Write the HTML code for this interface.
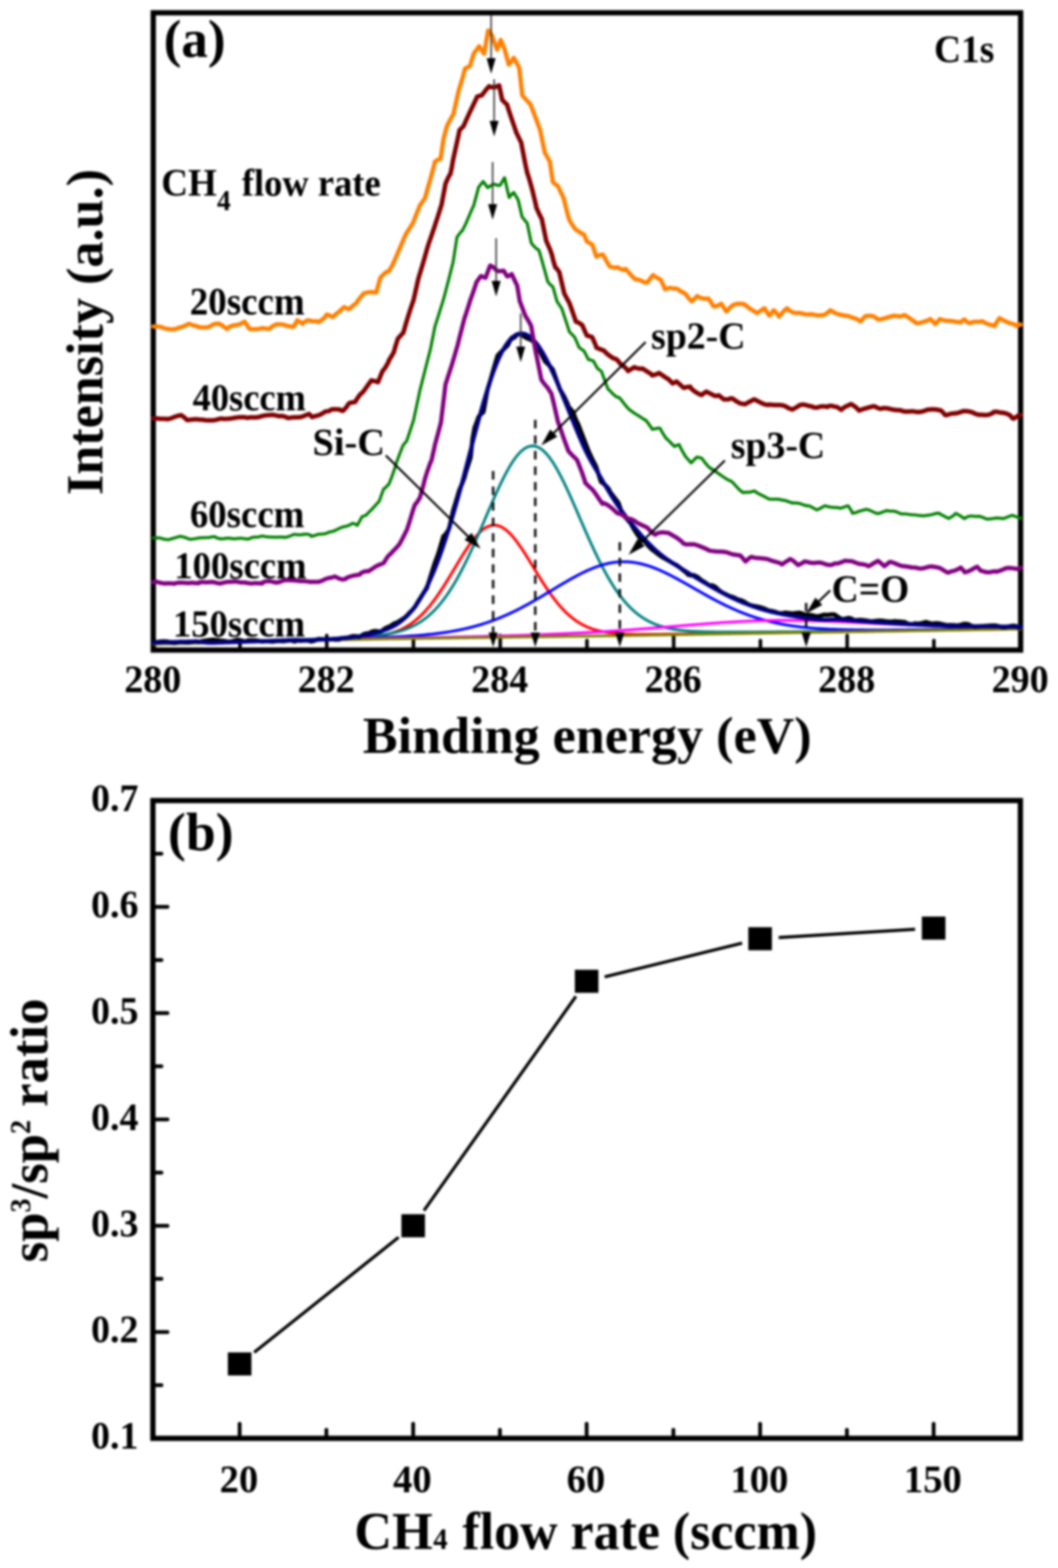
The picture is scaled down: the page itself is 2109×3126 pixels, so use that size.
<!DOCTYPE html><html><head><meta charset="utf-8"><style>html,body{margin:0;padding:0;background:#fff;}svg{display:block;filter:blur(2.2px);}</style></head><body><svg width="2109" height="3126" viewBox="0 0 2109 3126">
<rect width="2109" height="3126" fill="#fff"/>
<defs><clipPath id="ca"><rect x="300.5" y="20" width="1739" height="1281"/></clipPath></defs>
<rect x="305.5" y="25.5" width="1729.0" height="1270.5" fill="none" stroke="#000" stroke-width="10.5"/>
<line x1="478.4" y1="1296" x2="478.4" y2="1277" stroke="#000" stroke-width="7" stroke-linecap="round"/>
<line x1="651.3" y1="1296" x2="651.3" y2="1267" stroke="#000" stroke-width="7" stroke-linecap="round"/>
<line x1="824.2" y1="1296" x2="824.2" y2="1277" stroke="#000" stroke-width="7" stroke-linecap="round"/>
<line x1="997.1" y1="1296" x2="997.1" y2="1267" stroke="#000" stroke-width="7" stroke-linecap="round"/>
<line x1="1170.0" y1="1296" x2="1170.0" y2="1277" stroke="#000" stroke-width="7" stroke-linecap="round"/>
<line x1="1342.9" y1="1296" x2="1342.9" y2="1267" stroke="#000" stroke-width="7" stroke-linecap="round"/>
<line x1="1515.8" y1="1296" x2="1515.8" y2="1277" stroke="#000" stroke-width="7" stroke-linecap="round"/>
<line x1="1688.7" y1="1296" x2="1688.7" y2="1267" stroke="#000" stroke-width="7" stroke-linecap="round"/>
<line x1="1861.6" y1="1296" x2="1861.6" y2="1277" stroke="#000" stroke-width="7" stroke-linecap="round"/>
<g clip-path="url(#ca)" fill="none" stroke-linejoin="round" stroke-linecap="round">
<polyline points="305.5,1283.6 308.5,1283.6 311.5,1283.6 314.5,1283.5 317.5,1283.5 320.5,1283.4 323.5,1283.3 326.5,1283.3 329.5,1283.2 332.5,1283.1 335.5,1283.0 338.5,1283.0 341.5,1282.9 344.5,1282.8 347.5,1282.7 350.5,1282.7 353.5,1282.6 356.5,1282.5 359.5,1282.5 362.5,1282.4 365.5,1282.3 368.5,1282.2 371.5,1282.2 374.5,1282.1 377.5,1282.0 380.5,1282.0 383.5,1281.9 386.5,1281.8 389.5,1281.7 392.5,1281.7 395.5,1281.6 398.5,1281.5 401.5,1281.4 404.5,1281.4 407.5,1281.3 410.5,1281.2 413.5,1281.2 416.5,1281.1 419.5,1281.0 422.5,1280.9 425.5,1280.9 428.5,1280.8 431.5,1280.7 434.5,1280.6 437.5,1280.6 440.5,1280.5 443.5,1280.4 446.5,1280.3 449.5,1280.3 452.5,1280.2 455.5,1280.1 458.5,1280.0 461.5,1280.0 464.5,1279.9 467.5,1279.8 470.5,1279.7 473.5,1279.7 476.5,1279.6 479.5,1279.5 482.5,1279.4 485.5,1279.4 488.5,1279.3 491.5,1279.2 494.5,1279.1 497.5,1279.1 500.5,1279.0 503.5,1278.9 506.5,1278.8 509.5,1278.8 512.5,1278.7 515.5,1278.6 518.5,1278.5 521.5,1278.5 524.5,1278.4 527.5,1278.3 530.5,1278.2 533.5,1278.1 536.5,1278.1 539.5,1278.0 542.5,1277.9 545.5,1277.8 548.5,1277.7 551.5,1277.7 554.5,1277.6 557.5,1277.5 560.5,1277.4 563.5,1277.3 566.5,1277.3 569.5,1277.2 572.5,1277.1 575.5,1277.0 578.5,1276.9 581.5,1276.9 584.5,1276.8 587.5,1276.7 590.5,1276.6 593.5,1276.5 596.5,1276.4 599.5,1276.4 602.5,1276.3 605.5,1276.2 608.5,1276.1 611.5,1276.0 614.5,1275.9 617.5,1275.9 620.5,1275.8 623.5,1275.7 626.5,1275.6 629.5,1275.5 632.5,1275.4 635.5,1275.3 638.5,1275.2 641.5,1275.1 644.5,1275.0 647.5,1274.9 650.5,1274.9 653.5,1274.8 656.5,1274.7 659.5,1274.6 662.5,1274.5 665.5,1274.3 668.5,1274.2 671.5,1274.1 674.5,1274.0 677.5,1273.9 680.5,1273.8 683.5,1273.7 686.5,1273.5 689.5,1273.4 692.5,1273.3 695.5,1273.1 698.5,1273.0 701.5,1272.8 704.5,1272.7 707.5,1272.5 710.5,1272.3 713.5,1272.1 716.5,1271.9 719.5,1271.7 722.5,1271.5 725.5,1271.2 728.5,1271.0 731.5,1270.7 734.5,1270.4 737.5,1270.1 740.5,1269.7 743.5,1269.4 746.5,1269.0 749.5,1268.5 752.5,1268.1 755.5,1267.6 758.5,1267.1 761.5,1266.6 764.5,1266.0 767.5,1265.4 770.5,1264.7 773.5,1264.0 776.5,1263.2 779.5,1262.3 782.5,1261.4 785.5,1260.4 788.5,1259.4 791.5,1258.3 794.5,1257.0 797.5,1255.8 800.5,1254.4 803.5,1252.9 806.5,1251.3 809.5,1249.7 812.5,1247.9 815.5,1246.0 818.5,1244.1 821.5,1242.0 824.5,1239.7 827.5,1237.4 830.5,1234.9 833.5,1232.3 836.5,1229.6 839.5,1226.8 842.5,1223.8 845.5,1220.7 848.5,1217.4 851.5,1214.0 854.5,1210.5 857.5,1206.9 860.5,1203.1 863.5,1199.2 866.5,1195.2 869.5,1191.0 872.5,1186.8 875.5,1182.4 878.5,1177.9 881.5,1173.4 884.5,1168.7 887.5,1164.0 890.5,1159.1 893.5,1154.3 896.5,1149.3 899.5,1144.4 902.5,1139.4 905.5,1134.4 908.5,1129.4 911.5,1124.4 914.5,1119.4 917.5,1114.4 920.5,1109.6 923.5,1104.8 926.5,1100.0 929.5,1095.4 932.5,1090.9 935.5,1086.5 938.5,1082.3 941.5,1078.3 944.5,1074.4 947.5,1070.8 950.5,1067.3 953.5,1064.1 956.5,1061.1 959.5,1058.4 962.5,1055.9 965.5,1053.7 968.5,1051.8 971.5,1050.2 974.5,1049.0 977.5,1048.0 980.5,1047.3 983.5,1047.0 986.5,1047.0 989.5,1047.3 992.5,1047.9 995.5,1048.8 998.5,1050.1 1001.5,1051.6 1004.5,1053.5 1007.5,1055.6 1010.5,1058.0 1013.5,1060.7 1016.5,1063.6 1019.5,1066.8 1022.5,1070.2 1025.5,1073.8 1028.5,1077.6 1031.5,1081.6 1034.5,1085.8 1037.5,1090.1 1040.5,1094.5 1043.5,1099.1 1046.5,1103.7 1049.5,1108.5 1052.5,1113.3 1055.5,1118.1 1058.5,1123.0 1061.5,1127.9 1064.5,1132.9 1067.5,1137.8 1070.5,1142.7 1073.5,1147.6 1076.5,1152.4 1079.5,1157.2 1082.5,1161.9 1085.5,1166.5 1088.5,1171.1 1091.5,1175.6 1094.5,1179.9 1097.5,1184.2 1100.5,1188.4 1103.5,1192.4 1106.5,1196.3 1109.5,1200.1 1112.5,1203.8 1115.5,1207.4 1118.5,1210.8 1121.5,1214.0 1124.5,1217.2 1127.5,1220.2 1130.5,1223.1 1133.5,1225.8 1136.5,1228.4 1139.5,1230.9 1142.5,1233.3 1145.5,1235.5 1148.5,1237.7 1151.5,1239.7 1154.5,1241.5 1157.5,1243.3 1160.5,1245.0 1163.5,1246.5 1166.5,1248.0 1169.5,1249.4 1172.5,1250.7 1175.5,1251.9 1178.5,1253.0 1181.5,1254.0 1184.5,1255.0 1187.5,1255.8 1190.5,1256.7 1193.5,1257.4 1196.5,1258.1 1199.5,1258.8 1202.5,1259.4 1205.5,1259.9 1208.5,1260.4 1211.5,1260.8 1214.5,1261.3 1217.5,1261.6 1220.5,1262.0 1223.5,1262.3 1226.5,1262.6 1229.5,1262.8 1232.5,1263.1 1235.5,1263.3 1238.5,1263.4 1241.5,1263.6 1244.5,1263.8 1247.5,1263.9 1250.5,1264.0 1253.5,1264.1 1256.5,1264.2 1259.5,1264.3 1262.5,1264.3 1265.5,1264.4 1268.5,1264.4 1271.5,1264.4 1274.5,1264.5 1277.5,1264.5 1280.5,1264.5 1283.5,1264.5 1286.5,1264.5 1289.5,1264.5 1292.5,1264.5 1295.5,1264.5 1298.5,1264.5 1301.5,1264.5 1304.5,1264.5 1307.5,1264.5 1310.5,1264.4 1313.5,1264.4 1316.5,1264.4 1319.5,1264.4 1322.5,1264.3 1325.5,1264.3 1328.5,1264.3 1331.5,1264.3 1334.5,1264.2 1337.5,1264.2 1340.5,1264.2 1343.5,1264.1 1346.5,1264.1 1349.5,1264.1 1352.5,1264.0 1355.5,1264.0 1358.5,1264.0 1361.5,1263.9 1364.5,1263.9 1367.5,1263.9 1370.5,1263.8 1373.5,1263.8 1376.5,1263.8 1379.5,1263.7 1382.5,1263.7 1385.5,1263.6 1388.5,1263.6 1391.5,1263.6 1394.5,1263.5 1397.5,1263.5 1400.5,1263.4 1403.5,1263.4 1406.5,1263.4 1409.5,1263.3 1412.5,1263.3 1415.5,1263.2 1418.5,1263.2 1421.5,1263.2 1424.5,1263.1 1427.5,1263.1 1430.5,1263.0 1433.5,1263.0 1436.5,1262.9 1439.5,1262.9 1442.5,1262.9 1445.5,1262.8 1448.5,1262.8 1451.5,1262.7 1454.5,1262.7 1457.5,1262.6 1460.5,1262.6 1463.5,1262.5 1466.5,1262.5 1469.5,1262.5 1472.5,1262.4 1475.5,1262.4 1478.5,1262.3 1481.5,1262.3 1484.5,1262.2 1487.5,1262.2 1490.5,1262.1 1493.5,1262.1 1496.5,1262.0 1499.5,1262.0 1502.5,1262.0 1505.5,1261.9 1508.5,1261.9 1511.5,1261.8 1514.5,1261.8 1517.5,1261.7 1520.5,1261.7 1523.5,1261.7 1526.5,1261.6 1529.5,1261.6 1532.5,1261.5 1535.5,1261.5 1538.5,1261.4 1541.5,1261.4 1544.5,1261.4 1547.5,1261.3 1550.5,1261.3 1553.5,1261.2 1556.5,1261.2 1559.5,1261.1 1562.5,1261.1 1565.5,1261.1 1568.5,1261.0 1571.5,1261.0 1574.5,1260.9 1577.5,1260.9 1580.5,1260.8 1583.5,1260.8 1586.5,1260.7 1589.5,1260.7 1592.5,1260.7 1595.5,1260.6 1598.5,1260.6 1601.5,1260.5 1604.5,1260.5 1607.5,1260.4 1610.5,1260.4 1613.5,1260.3 1616.5,1260.3 1619.5,1260.3 1622.5,1260.2 1625.5,1260.2 1628.5,1260.1 1631.5,1260.1 1634.5,1260.0 1637.5,1260.0 1640.5,1259.9 1643.5,1259.9 1646.5,1259.9 1649.5,1259.8 1652.5,1259.8 1655.5,1259.7 1658.5,1259.7 1661.5,1259.6 1664.5,1259.6 1667.5,1259.5 1670.5,1259.5 1673.5,1259.4 1676.5,1259.4 1679.5,1259.4 1682.5,1259.3 1685.5,1259.3 1688.5,1259.2 1691.5,1259.2 1694.5,1259.1 1697.5,1259.1 1700.5,1259.0 1703.5,1259.0 1706.5,1258.9 1709.5,1258.9 1712.5,1258.8 1715.5,1258.8 1718.5,1258.8 1721.5,1258.7 1724.5,1258.7 1727.5,1258.6 1730.5,1258.6 1733.5,1258.5 1736.5,1258.5 1739.5,1258.4 1742.5,1258.4 1745.5,1258.3 1748.5,1258.3 1751.5,1258.2 1754.5,1258.2 1757.5,1258.1 1760.5,1258.1 1763.5,1258.1 1766.5,1258.0 1769.5,1258.0 1772.5,1257.9 1775.5,1257.9 1778.5,1257.8 1781.5,1257.8 1784.5,1257.7 1787.5,1257.7 1790.5,1257.6 1793.5,1257.6 1796.5,1257.5 1799.5,1257.5 1802.5,1257.4 1805.5,1257.4 1808.5,1257.4 1811.5,1257.3 1814.5,1257.3 1817.5,1257.2 1820.5,1257.2 1823.5,1257.1 1826.5,1257.1 1829.5,1257.0 1832.5,1257.0 1835.5,1256.9 1838.5,1256.9 1841.5,1256.8 1844.5,1256.8 1847.5,1256.7 1850.5,1256.7 1853.5,1256.6 1856.5,1256.6 1859.5,1256.6 1862.5,1256.5 1865.5,1256.5 1868.5,1256.4 1871.5,1256.4 1874.5,1256.3 1877.5,1256.3 1880.5,1256.2 1883.5,1256.2 1886.5,1256.1 1889.5,1256.1 1892.5,1256.0 1895.5,1256.0 1898.5,1255.9 1901.5,1255.9 1904.5,1255.8 1907.5,1255.8 1910.5,1255.7 1913.5,1255.7 1916.5,1255.7 1919.5,1255.6 1922.5,1255.6 1925.5,1255.5 1928.5,1255.5 1931.5,1255.4 1934.5,1255.4 1937.5,1255.3 1940.5,1255.3 1943.5,1255.2 1946.5,1255.2 1949.5,1255.1 1952.5,1255.1 1955.5,1255.0 1958.5,1255.0 1961.5,1254.9 1964.5,1254.9 1967.5,1254.8 1970.5,1254.8 1973.5,1254.7 1976.5,1254.7 1979.5,1254.7 1982.5,1254.6 1985.5,1254.6 1988.5,1254.5 1991.5,1254.5 1994.5,1254.4 1997.5,1254.4 2000.5,1254.3 2003.5,1254.3 2006.5,1254.2 2009.5,1254.2 2012.5,1254.1 2015.5,1254.1 2018.5,1254.0 2021.5,1254.0 2024.5,1253.9 2027.5,1253.9 2030.5,1253.8 2033.5,1253.9 2034.5,1253.9" stroke="#ff0000" stroke-width="5.5"/>
<polyline points="305.5,1283.1 308.5,1283.1 311.5,1283.0 314.5,1282.9 317.5,1282.9 320.5,1282.8 323.5,1282.7 326.5,1282.6 329.5,1282.6 332.5,1282.5 335.5,1282.4 338.5,1282.3 341.5,1282.3 344.5,1282.2 347.5,1282.1 350.5,1282.0 353.5,1281.9 356.5,1281.9 359.5,1281.8 362.5,1281.7 365.5,1281.6 368.5,1281.6 371.5,1281.5 374.5,1281.4 377.5,1281.3 380.5,1281.2 383.5,1281.2 386.5,1281.1 389.5,1281.0 392.5,1280.9 395.5,1280.9 398.5,1280.8 401.5,1280.7 404.5,1280.6 407.5,1280.5 410.5,1280.5 413.5,1280.4 416.5,1280.3 419.5,1280.2 422.5,1280.1 425.5,1280.1 428.5,1280.0 431.5,1279.9 434.5,1279.8 437.5,1279.7 440.5,1279.7 443.5,1279.6 446.5,1279.5 449.5,1279.4 452.5,1279.3 455.5,1279.3 458.5,1279.2 461.5,1279.1 464.5,1279.0 467.5,1278.9 470.5,1278.8 473.5,1278.8 476.5,1278.7 479.5,1278.6 482.5,1278.5 485.5,1278.4 488.5,1278.3 491.5,1278.3 494.5,1278.2 497.5,1278.1 500.5,1278.0 503.5,1277.9 506.5,1277.8 509.5,1277.7 512.5,1277.7 515.5,1277.6 518.5,1277.5 521.5,1277.4 524.5,1277.3 527.5,1277.2 530.5,1277.1 533.5,1277.0 536.5,1277.0 539.5,1276.9 542.5,1276.8 545.5,1276.7 548.5,1276.6 551.5,1276.5 554.5,1276.4 557.5,1276.3 560.5,1276.2 563.5,1276.1 566.5,1276.0 569.5,1275.9 572.5,1275.9 575.5,1275.8 578.5,1275.7 581.5,1275.6 584.5,1275.5 587.5,1275.4 590.5,1275.3 593.5,1275.2 596.5,1275.1 599.5,1275.0 602.5,1274.9 605.5,1274.8 608.5,1274.7 611.5,1274.6 614.5,1274.5 617.5,1274.4 620.5,1274.3 623.5,1274.2 626.5,1274.1 629.5,1274.0 632.5,1273.9 635.5,1273.8 638.5,1273.6 641.5,1273.5 644.5,1273.4 647.5,1273.3 650.5,1273.2 653.5,1273.1 656.5,1273.0 659.5,1272.8 662.5,1272.7 665.5,1272.6 668.5,1272.5 671.5,1272.4 674.5,1272.2 677.5,1272.1 680.5,1272.0 683.5,1271.8 686.5,1271.7 689.5,1271.5 692.5,1271.4 695.5,1271.2 698.5,1271.1 701.5,1270.9 704.5,1270.7 707.5,1270.6 710.5,1270.4 713.5,1270.2 716.5,1270.0 719.5,1269.8 722.5,1269.6 725.5,1269.3 728.5,1269.1 731.5,1268.9 734.5,1268.6 737.5,1268.3 740.5,1268.0 743.5,1267.7 746.5,1267.4 749.5,1267.1 752.5,1266.7 755.5,1266.4 758.5,1266.0 761.5,1265.6 764.5,1265.2 767.5,1264.7 770.5,1264.3 773.5,1263.7 776.5,1263.2 779.5,1262.6 782.5,1262.0 785.5,1261.3 788.5,1260.6 791.5,1259.9 794.5,1259.1 797.5,1258.2 800.5,1257.3 803.5,1256.3 806.5,1255.3 809.5,1254.2 812.5,1253.0 815.5,1251.8 818.5,1250.5 821.5,1249.1 824.5,1247.6 827.5,1246.1 830.5,1244.4 833.5,1242.7 836.5,1240.9 839.5,1238.9 842.5,1236.9 845.5,1234.7 848.5,1232.4 851.5,1230.1 854.5,1227.5 857.5,1224.9 860.5,1222.1 863.5,1219.3 866.5,1216.2 869.5,1213.1 872.5,1209.7 875.5,1206.3 878.5,1202.7 881.5,1198.9 884.5,1195.0 887.5,1191.0 890.5,1186.8 893.5,1182.4 896.5,1177.9 899.5,1173.3 902.5,1168.4 905.5,1163.5 908.5,1158.3 911.5,1153.1 914.5,1147.7 917.5,1142.1 920.5,1136.4 923.5,1130.5 926.5,1124.6 929.5,1118.5 932.5,1112.2 935.5,1105.9 938.5,1099.4 941.5,1092.9 944.5,1086.3 947.5,1079.5 950.5,1072.7 953.5,1065.9 956.5,1058.9 959.5,1052.0 962.5,1045.0 965.5,1038.0 968.5,1030.9 971.5,1023.9 974.5,1016.9 977.5,1010.0 980.5,1003.0 983.5,996.2 986.5,989.4 989.5,982.7 992.5,976.1 995.5,969.7 998.5,963.4 1001.5,957.2 1004.5,951.2 1007.5,945.4 1010.5,939.8 1013.5,934.5 1016.5,929.3 1019.5,924.4 1022.5,919.8 1025.5,915.4 1028.5,911.4 1031.5,907.6 1034.5,904.2 1037.5,901.1 1040.5,898.3 1043.5,895.9 1046.5,893.8 1049.5,892.1 1052.5,890.8 1055.5,889.8 1058.5,889.2 1061.5,889.0 1064.5,889.2 1067.5,889.8 1070.5,890.7 1073.5,892.0 1076.5,893.7 1079.5,895.8 1082.5,898.2 1085.5,900.9 1088.5,904.0 1091.5,907.4 1094.5,911.1 1097.5,915.2 1100.5,919.5 1103.5,924.1 1106.5,928.9 1109.5,934.0 1112.5,939.4 1115.5,944.9 1118.5,950.7 1121.5,956.6 1124.5,962.7 1127.5,969.0 1130.5,975.4 1133.5,981.9 1136.5,988.5 1139.5,995.2 1142.5,1002.0 1145.5,1008.9 1148.5,1015.7 1151.5,1022.7 1154.5,1029.6 1157.5,1036.5 1160.5,1043.5 1163.5,1050.4 1166.5,1057.3 1169.5,1064.1 1172.5,1070.9 1175.5,1077.6 1178.5,1084.2 1181.5,1090.7 1184.5,1097.2 1187.5,1103.5 1190.5,1109.8 1193.5,1115.9 1196.5,1121.9 1199.5,1127.8 1202.5,1133.5 1205.5,1139.1 1208.5,1144.5 1211.5,1149.9 1214.5,1155.0 1217.5,1160.0 1220.5,1164.9 1223.5,1169.6 1226.5,1174.2 1229.5,1178.6 1232.5,1182.8 1235.5,1186.9 1238.5,1190.8 1241.5,1194.6 1244.5,1198.3 1247.5,1201.7 1250.5,1205.1 1253.5,1208.3 1256.5,1211.3 1259.5,1214.2 1262.5,1217.0 1265.5,1219.7 1268.5,1222.2 1271.5,1224.6 1274.5,1226.8 1277.5,1229.0 1280.5,1231.0 1283.5,1233.0 1286.5,1234.8 1289.5,1236.5 1292.5,1238.1 1295.5,1239.7 1298.5,1241.1 1301.5,1242.5 1304.5,1243.8 1307.5,1245.0 1310.5,1246.1 1313.5,1247.1 1316.5,1248.1 1319.5,1249.0 1322.5,1249.9 1325.5,1250.7 1328.5,1251.5 1331.5,1252.2 1334.5,1252.8 1337.5,1253.4 1340.5,1254.0 1343.5,1254.5 1346.5,1255.0 1349.5,1255.4 1352.5,1255.8 1355.5,1256.2 1358.5,1256.6 1361.5,1256.9 1364.5,1257.2 1367.5,1257.5 1370.5,1257.7 1373.5,1257.9 1376.5,1258.2 1379.5,1258.4 1382.5,1258.5 1385.5,1258.7 1388.5,1258.8 1391.5,1259.0 1394.5,1259.1 1397.5,1259.2 1400.5,1259.3 1403.5,1259.4 1406.5,1259.5 1409.5,1259.6 1412.5,1259.6 1415.5,1259.7 1418.5,1259.7 1421.5,1259.8 1424.5,1259.8 1427.5,1259.9 1430.5,1259.9 1433.5,1259.9 1436.5,1260.0 1439.5,1260.0 1442.5,1260.0 1445.5,1260.0 1448.5,1260.0 1451.5,1260.0 1454.5,1260.0 1457.5,1260.0 1460.5,1260.0 1463.5,1260.0 1466.5,1260.0 1469.5,1260.0 1472.5,1260.0 1475.5,1260.0 1478.5,1260.0 1481.5,1260.0 1484.5,1260.0 1487.5,1260.0 1490.5,1260.0 1493.5,1260.0 1496.5,1259.9 1499.5,1259.9 1502.5,1259.9 1505.5,1259.9 1508.5,1259.9 1511.5,1259.9 1514.5,1259.8 1517.5,1259.8 1520.5,1259.8 1523.5,1259.8 1526.5,1259.8 1529.5,1259.8 1532.5,1259.7 1535.5,1259.7 1538.5,1259.7 1541.5,1259.7 1544.5,1259.7 1547.5,1259.6 1550.5,1259.6 1553.5,1259.6 1556.5,1259.6 1559.5,1259.5 1562.5,1259.5 1565.5,1259.5 1568.5,1259.5 1571.5,1259.4 1574.5,1259.4 1577.5,1259.4 1580.5,1259.4 1583.5,1259.3 1586.5,1259.3 1589.5,1259.3 1592.5,1259.2 1595.5,1259.2 1598.5,1259.2 1601.5,1259.2 1604.5,1259.1 1607.5,1259.1 1610.5,1259.1 1613.5,1259.0 1616.5,1259.0 1619.5,1259.0 1622.5,1258.9 1625.5,1258.9 1628.5,1258.9 1631.5,1258.8 1634.5,1258.8 1637.5,1258.8 1640.5,1258.7 1643.5,1258.7 1646.5,1258.7 1649.5,1258.6 1652.5,1258.6 1655.5,1258.6 1658.5,1258.5 1661.5,1258.5 1664.5,1258.5 1667.5,1258.4 1670.5,1258.4 1673.5,1258.4 1676.5,1258.3 1679.5,1258.3 1682.5,1258.3 1685.5,1258.2 1688.5,1258.2 1691.5,1258.2 1694.5,1258.1 1697.5,1258.1 1700.5,1258.0 1703.5,1258.0 1706.5,1258.0 1709.5,1257.9 1712.5,1257.9 1715.5,1257.9 1718.5,1257.8 1721.5,1257.8 1724.5,1257.7 1727.5,1257.7 1730.5,1257.7 1733.5,1257.6 1736.5,1257.6 1739.5,1257.6 1742.5,1257.5 1745.5,1257.5 1748.5,1257.4 1751.5,1257.4 1754.5,1257.4 1757.5,1257.3 1760.5,1257.3 1763.5,1257.2 1766.5,1257.2 1769.5,1257.2 1772.5,1257.1 1775.5,1257.1 1778.5,1257.0 1781.5,1257.0 1784.5,1257.0 1787.5,1256.9 1790.5,1256.9 1793.5,1256.8 1796.5,1256.8 1799.5,1256.8 1802.5,1256.7 1805.5,1256.7 1808.5,1256.6 1811.5,1256.6 1814.5,1256.6 1817.5,1256.5 1820.5,1256.5 1823.5,1256.4 1826.5,1256.4 1829.5,1256.3 1832.5,1256.3 1835.5,1256.3 1838.5,1256.2 1841.5,1256.2 1844.5,1256.1 1847.5,1256.1 1850.5,1256.1 1853.5,1256.0 1856.5,1256.0 1859.5,1255.9 1862.5,1255.9 1865.5,1255.8 1868.5,1255.8 1871.5,1255.8 1874.5,1255.7 1877.5,1255.7 1880.5,1255.6 1883.5,1255.6 1886.5,1255.5 1889.5,1255.5 1892.5,1255.5 1895.5,1255.4 1898.5,1255.4 1901.5,1255.3 1904.5,1255.3 1907.5,1255.2 1910.5,1255.2 1913.5,1255.1 1916.5,1255.1 1919.5,1255.1 1922.5,1255.0 1925.5,1255.0 1928.5,1254.9 1931.5,1254.9 1934.5,1254.8 1937.5,1254.8 1940.5,1254.8 1943.5,1254.7 1946.5,1254.7 1949.5,1254.6 1952.5,1254.6 1955.5,1254.5 1958.5,1254.5 1961.5,1254.4 1964.5,1254.4 1967.5,1254.4 1970.5,1254.3 1973.5,1254.3 1976.5,1254.2 1979.5,1254.2 1982.5,1254.1 1985.5,1254.1 1988.5,1254.0 1991.5,1254.0 1994.5,1254.0 1997.5,1253.9 2000.5,1253.9 2003.5,1253.8 2006.5,1253.8 2009.5,1253.7 2012.5,1253.7 2015.5,1253.6 2018.5,1253.6 2021.5,1253.6 2024.5,1253.5 2027.5,1253.5 2030.5,1253.4 2033.5,1253.4 2034.5,1253.4" stroke="#008080" stroke-width="5.5"/>
<polyline points="305.5,1283.3 308.5,1283.3 311.5,1283.2 314.5,1283.2 317.5,1283.1 320.5,1283.0 323.5,1282.9 326.5,1282.9 329.5,1282.8 332.5,1282.7 335.5,1282.6 338.5,1282.6 341.5,1282.5 344.5,1282.4 347.5,1282.3 350.5,1282.3 353.5,1282.2 356.5,1282.1 359.5,1282.1 362.5,1282.0 365.5,1281.9 368.5,1281.8 371.5,1281.8 374.5,1281.7 377.5,1281.6 380.5,1281.5 383.5,1281.5 386.5,1281.4 389.5,1281.3 392.5,1281.2 395.5,1281.2 398.5,1281.1 401.5,1281.0 404.5,1280.9 407.5,1280.9 410.5,1280.8 413.5,1280.7 416.5,1280.6 419.5,1280.6 422.5,1280.5 425.5,1280.4 428.5,1280.3 431.5,1280.3 434.5,1280.2 437.5,1280.1 440.5,1280.0 443.5,1280.0 446.5,1279.9 449.5,1279.8 452.5,1279.7 455.5,1279.7 458.5,1279.6 461.5,1279.5 464.5,1279.4 467.5,1279.4 470.5,1279.3 473.5,1279.2 476.5,1279.1 479.5,1279.1 482.5,1279.0 485.5,1278.9 488.5,1278.8 491.5,1278.8 494.5,1278.7 497.5,1278.6 500.5,1278.5 503.5,1278.4 506.5,1278.4 509.5,1278.3 512.5,1278.2 515.5,1278.1 518.5,1278.1 521.5,1278.0 524.5,1277.9 527.5,1277.8 530.5,1277.7 533.5,1277.7 536.5,1277.6 539.5,1277.5 542.5,1277.4 545.5,1277.4 548.5,1277.3 551.5,1277.2 554.5,1277.1 557.5,1277.0 560.5,1277.0 563.5,1276.9 566.5,1276.8 569.5,1276.7 572.5,1276.6 575.5,1276.6 578.5,1276.5 581.5,1276.4 584.5,1276.3 587.5,1276.2 590.5,1276.2 593.5,1276.1 596.5,1276.0 599.5,1275.9 602.5,1275.8 605.5,1275.7 608.5,1275.7 611.5,1275.6 614.5,1275.5 617.5,1275.4 620.5,1275.3 623.5,1275.2 626.5,1275.2 629.5,1275.1 632.5,1275.0 635.5,1274.9 638.5,1274.8 641.5,1274.7 644.5,1274.6 647.5,1274.6 650.5,1274.5 653.5,1274.4 656.5,1274.3 659.5,1274.2 662.5,1274.1 665.5,1274.0 668.5,1273.9 671.5,1273.8 674.5,1273.8 677.5,1273.7 680.5,1273.6 683.5,1273.5 686.5,1273.4 689.5,1273.3 692.5,1273.2 695.5,1273.1 698.5,1273.0 701.5,1272.9 704.5,1272.8 707.5,1272.7 710.5,1272.6 713.5,1272.5 716.5,1272.4 719.5,1272.3 722.5,1272.2 725.5,1272.0 728.5,1271.9 731.5,1271.8 734.5,1271.7 737.5,1271.6 740.5,1271.5 743.5,1271.3 746.5,1271.2 749.5,1271.1 752.5,1271.0 755.5,1270.9 758.5,1270.8 761.5,1270.7 764.5,1270.6 767.5,1270.4 770.5,1270.3 773.5,1270.2 776.5,1270.1 779.5,1269.9 782.5,1269.8 785.5,1269.7 788.5,1269.5 791.5,1269.4 794.5,1269.2 797.5,1269.1 800.5,1268.9 803.5,1268.7 806.5,1268.6 809.5,1268.4 812.5,1268.2 815.5,1268.0 818.5,1267.8 821.5,1267.6 824.5,1267.4 827.5,1267.2 830.5,1267.0 833.5,1266.7 836.5,1266.5 839.5,1266.2 842.5,1266.0 845.5,1265.7 848.5,1265.4 851.5,1265.1 854.5,1264.8 857.5,1264.5 860.5,1264.2 863.5,1263.9 866.5,1263.5 869.5,1263.2 872.5,1262.8 875.5,1262.4 878.5,1262.0 881.5,1261.6 884.5,1261.2 887.5,1260.8 890.5,1260.3 893.5,1259.9 896.5,1259.4 899.5,1258.9 902.5,1258.4 905.5,1257.8 908.5,1257.3 911.5,1256.7 914.5,1256.1 917.5,1255.5 920.5,1254.9 923.5,1254.3 926.5,1253.6 929.5,1252.9 932.5,1252.2 935.5,1251.5 938.5,1250.7 941.5,1250.0 944.5,1249.2 947.5,1248.4 950.5,1247.5 953.5,1246.7 956.5,1245.8 959.5,1244.9 962.5,1244.0 965.5,1243.0 968.5,1242.0 971.5,1241.0 974.5,1240.0 977.5,1238.9 980.5,1237.9 983.5,1236.8 986.5,1235.6 989.5,1234.5 992.5,1233.3 995.5,1232.1 998.5,1230.9 1001.5,1229.6 1004.5,1228.3 1007.5,1227.0 1010.5,1225.7 1013.5,1224.3 1016.5,1222.9 1019.5,1221.5 1022.5,1220.1 1025.5,1218.6 1028.5,1217.2 1031.5,1215.7 1034.5,1214.1 1037.5,1212.6 1040.5,1211.0 1043.5,1209.4 1046.5,1207.8 1049.5,1206.2 1052.5,1204.6 1055.5,1202.9 1058.5,1201.2 1061.5,1199.5 1064.5,1197.8 1067.5,1196.1 1070.5,1194.4 1073.5,1192.6 1076.5,1190.8 1079.5,1189.1 1082.5,1187.3 1085.5,1185.5 1088.5,1183.7 1091.5,1181.9 1094.5,1180.1 1097.5,1178.3 1100.5,1176.5 1103.5,1174.7 1106.5,1172.8 1109.5,1171.0 1112.5,1169.2 1115.5,1167.4 1118.5,1165.7 1121.5,1163.9 1124.5,1162.1 1127.5,1160.4 1130.5,1158.6 1133.5,1156.9 1136.5,1155.2 1139.5,1153.5 1142.5,1151.8 1145.5,1150.2 1148.5,1148.6 1151.5,1147.0 1154.5,1145.4 1157.5,1143.9 1160.5,1142.4 1163.5,1140.9 1166.5,1139.5 1169.5,1138.1 1172.5,1136.8 1175.5,1135.4 1178.5,1134.2 1181.5,1132.9 1184.5,1131.8 1187.5,1130.6 1190.5,1129.6 1193.5,1128.5 1196.5,1127.5 1199.5,1126.6 1202.5,1125.7 1205.5,1124.9 1208.5,1124.2 1211.5,1123.5 1214.5,1122.8 1217.5,1122.3 1220.5,1121.7 1223.5,1121.3 1226.5,1120.9 1229.5,1120.6 1232.5,1120.3 1235.5,1120.1 1238.5,1120.0 1241.5,1119.9 1244.5,1119.9 1247.5,1120.0 1250.5,1120.1 1253.5,1120.3 1256.5,1120.5 1259.5,1120.8 1262.5,1121.2 1265.5,1121.6 1268.5,1122.1 1271.5,1122.7 1274.5,1123.3 1277.5,1124.0 1280.5,1124.7 1283.5,1125.5 1286.5,1126.3 1289.5,1127.2 1292.5,1128.2 1295.5,1129.2 1298.5,1130.2 1301.5,1131.3 1304.5,1132.4 1307.5,1133.6 1310.5,1134.8 1313.5,1136.1 1316.5,1137.4 1319.5,1138.8 1322.5,1140.1 1325.5,1141.6 1328.5,1143.0 1331.5,1144.5 1334.5,1146.0 1337.5,1147.5 1340.5,1149.1 1343.5,1150.6 1346.5,1152.2 1349.5,1153.8 1352.5,1155.5 1355.5,1157.1 1358.5,1158.8 1361.5,1160.5 1364.5,1162.1 1367.5,1163.8 1370.5,1165.5 1373.5,1167.2 1376.5,1169.0 1379.5,1170.7 1382.5,1172.4 1385.5,1174.1 1388.5,1175.8 1391.5,1177.5 1394.5,1179.2 1397.5,1180.9 1400.5,1182.6 1403.5,1184.3 1406.5,1186.0 1409.5,1187.7 1412.5,1189.3 1415.5,1191.0 1418.5,1192.6 1421.5,1194.2 1424.5,1195.8 1427.5,1197.4 1430.5,1198.9 1433.5,1200.5 1436.5,1202.0 1439.5,1203.5 1442.5,1205.0 1445.5,1206.5 1448.5,1207.9 1451.5,1209.3 1454.5,1210.7 1457.5,1212.1 1460.5,1213.5 1463.5,1214.8 1466.5,1216.1 1469.5,1217.4 1472.5,1218.7 1475.5,1219.9 1478.5,1221.1 1481.5,1222.3 1484.5,1223.4 1487.5,1224.6 1490.5,1225.7 1493.5,1226.8 1496.5,1227.8 1499.5,1228.9 1502.5,1229.9 1505.5,1230.8 1508.5,1231.8 1511.5,1232.7 1514.5,1233.6 1517.5,1234.5 1520.5,1235.4 1523.5,1236.2 1526.5,1237.0 1529.5,1237.8 1532.5,1238.6 1535.5,1239.3 1538.5,1240.0 1541.5,1240.7 1544.5,1241.4 1547.5,1242.1 1550.5,1242.7 1553.5,1243.3 1556.5,1243.9 1559.5,1244.5 1562.5,1245.0 1565.5,1245.5 1568.5,1246.1 1571.5,1246.5 1574.5,1247.0 1577.5,1247.5 1580.5,1247.9 1583.5,1248.3 1586.5,1248.7 1589.5,1249.1 1592.5,1249.5 1595.5,1249.9 1598.5,1250.2 1601.5,1250.5 1604.5,1250.8 1607.5,1251.1 1610.5,1251.4 1613.5,1251.7 1616.5,1252.0 1619.5,1252.2 1622.5,1252.4 1625.5,1252.7 1628.5,1252.9 1631.5,1253.1 1634.5,1253.3 1637.5,1253.5 1640.5,1253.6 1643.5,1253.8 1646.5,1254.0 1649.5,1254.1 1652.5,1254.3 1655.5,1254.4 1658.5,1254.5 1661.5,1254.6 1664.5,1254.7 1667.5,1254.8 1670.5,1254.9 1673.5,1255.0 1676.5,1255.1 1679.5,1255.2 1682.5,1255.3 1685.5,1255.3 1688.5,1255.4 1691.5,1255.5 1694.5,1255.5 1697.5,1255.6 1700.5,1255.6 1703.5,1255.7 1706.5,1255.7 1709.5,1255.7 1712.5,1255.8 1715.5,1255.8 1718.5,1255.8 1721.5,1255.8 1724.5,1255.9 1727.5,1255.9 1730.5,1255.9 1733.5,1255.9 1736.5,1255.9 1739.5,1255.9 1742.5,1255.9 1745.5,1255.9 1748.5,1255.9 1751.5,1255.9 1754.5,1255.9 1757.5,1255.9 1760.5,1255.9 1763.5,1255.9 1766.5,1255.9 1769.5,1255.9 1772.5,1255.9 1775.5,1255.9 1778.5,1255.8 1781.5,1255.8 1784.5,1255.8 1787.5,1255.8 1790.5,1255.8 1793.5,1255.7 1796.5,1255.7 1799.5,1255.7 1802.5,1255.7 1805.5,1255.7 1808.5,1255.6 1811.5,1255.6 1814.5,1255.6 1817.5,1255.6 1820.5,1255.5 1823.5,1255.5 1826.5,1255.5 1829.5,1255.4 1832.5,1255.4 1835.5,1255.4 1838.5,1255.4 1841.5,1255.3 1844.5,1255.3 1847.5,1255.3 1850.5,1255.2 1853.5,1255.2 1856.5,1255.2 1859.5,1255.1 1862.5,1255.1 1865.5,1255.1 1868.5,1255.0 1871.5,1255.0 1874.5,1255.0 1877.5,1254.9 1880.5,1254.9 1883.5,1254.9 1886.5,1254.8 1889.5,1254.8 1892.5,1254.8 1895.5,1254.7 1898.5,1254.7 1901.5,1254.7 1904.5,1254.6 1907.5,1254.6 1910.5,1254.5 1913.5,1254.5 1916.5,1254.5 1919.5,1254.4 1922.5,1254.4 1925.5,1254.4 1928.5,1254.3 1931.5,1254.3 1934.5,1254.2 1937.5,1254.2 1940.5,1254.2 1943.5,1254.1 1946.5,1254.1 1949.5,1254.1 1952.5,1254.0 1955.5,1254.0 1958.5,1253.9 1961.5,1253.9 1964.5,1253.9 1967.5,1253.8 1970.5,1253.8 1973.5,1253.7 1976.5,1253.7 1979.5,1253.7 1982.5,1253.6 1985.5,1253.6 1988.5,1253.5 1991.5,1253.5 1994.5,1253.5 1997.5,1253.4 2000.5,1253.4 2003.5,1253.3 2006.5,1253.3 2009.5,1253.3 2012.5,1253.2 2015.5,1253.2 2018.5,1253.1 2021.5,1253.1 2024.5,1253.1 2027.5,1253.0 2030.5,1253.0 2033.5,1253.0 2034.5,1253.0" stroke="#0000ff" stroke-width="5.5"/>
<polyline points="305.5,1283.6 308.5,1283.6 311.5,1283.5 314.5,1283.5 317.5,1283.4 320.5,1283.3 323.5,1283.3 326.5,1283.2 329.5,1283.1 332.5,1283.0 335.5,1283.0 338.5,1282.9 341.5,1282.8 344.5,1282.8 347.5,1282.7 350.5,1282.6 353.5,1282.6 356.5,1282.5 359.5,1282.4 362.5,1282.3 365.5,1282.3 368.5,1282.2 371.5,1282.1 374.5,1282.1 377.5,1282.0 380.5,1281.9 383.5,1281.9 386.5,1281.8 389.5,1281.7 392.5,1281.6 395.5,1281.6 398.5,1281.5 401.5,1281.4 404.5,1281.4 407.5,1281.3 410.5,1281.2 413.5,1281.1 416.5,1281.1 419.5,1281.0 422.5,1280.9 425.5,1280.9 428.5,1280.8 431.5,1280.7 434.5,1280.7 437.5,1280.6 440.5,1280.5 443.5,1280.4 446.5,1280.4 449.5,1280.3 452.5,1280.2 455.5,1280.2 458.5,1280.1 461.5,1280.0 464.5,1279.9 467.5,1279.9 470.5,1279.8 473.5,1279.7 476.5,1279.7 479.5,1279.6 482.5,1279.5 485.5,1279.4 488.5,1279.4 491.5,1279.3 494.5,1279.2 497.5,1279.2 500.5,1279.1 503.5,1279.0 506.5,1278.9 509.5,1278.9 512.5,1278.8 515.5,1278.7 518.5,1278.7 521.5,1278.6 524.5,1278.5 527.5,1278.4 530.5,1278.4 533.5,1278.3 536.5,1278.2 539.5,1278.2 542.5,1278.1 545.5,1278.0 548.5,1277.9 551.5,1277.9 554.5,1277.8 557.5,1277.7 560.5,1277.7 563.5,1277.6 566.5,1277.5 569.5,1277.4 572.5,1277.4 575.5,1277.3 578.5,1277.2 581.5,1277.1 584.5,1277.1 587.5,1277.0 590.5,1276.9 593.5,1276.9 596.5,1276.8 599.5,1276.7 602.5,1276.6 605.5,1276.6 608.5,1276.5 611.5,1276.4 614.5,1276.4 617.5,1276.3 620.5,1276.2 623.5,1276.1 626.5,1276.1 629.5,1276.0 632.5,1275.9 635.5,1275.8 638.5,1275.8 641.5,1275.7 644.5,1275.6 647.5,1275.5 650.5,1275.5 653.5,1275.4 656.5,1275.3 659.5,1275.3 662.5,1275.2 665.5,1275.1 668.5,1275.0 671.5,1275.0 674.5,1274.9 677.5,1274.8 680.5,1274.7 683.5,1274.7 686.5,1274.6 689.5,1274.5 692.5,1274.4 695.5,1274.4 698.5,1274.3 701.5,1274.2 704.5,1274.1 707.5,1274.1 710.5,1274.0 713.5,1273.9 716.5,1273.8 719.5,1273.8 722.5,1273.7 725.5,1273.6 728.5,1273.5 731.5,1273.5 734.5,1273.4 737.5,1273.3 740.5,1273.2 743.5,1273.2 746.5,1273.1 749.5,1273.0 752.5,1273.0 755.5,1272.9 758.5,1272.9 761.5,1272.8 764.5,1272.8 767.5,1272.7 770.5,1272.7 773.5,1272.6 776.5,1272.6 779.5,1272.5 782.5,1272.4 785.5,1272.4 788.5,1272.3 791.5,1272.3 794.5,1272.2 797.5,1272.2 800.5,1272.1 803.5,1272.1 806.5,1272.0 809.5,1272.0 812.5,1271.9 815.5,1271.9 818.5,1271.8 821.5,1271.8 824.5,1271.7 827.5,1271.6 830.5,1271.6 833.5,1271.5 836.5,1271.5 839.5,1271.4 842.5,1271.4 845.5,1271.3 848.5,1271.3 851.5,1271.2 854.5,1271.1 857.5,1271.1 860.5,1271.0 863.5,1271.0 866.5,1270.9 869.5,1270.8 872.5,1270.8 875.5,1270.7 878.5,1270.7 881.5,1270.6 884.5,1270.5 887.5,1270.5 890.5,1270.4 893.5,1270.4 896.5,1270.3 899.5,1270.2 902.5,1270.2 905.5,1270.1 908.5,1270.0 911.5,1270.0 914.5,1269.9 917.5,1269.8 920.5,1269.8 923.5,1269.7 926.5,1269.6 929.5,1269.6 932.5,1269.5 935.5,1269.4 938.5,1269.4 941.5,1269.3 944.5,1269.2 947.5,1269.2 950.5,1269.1 953.5,1269.0 956.5,1268.9 959.5,1268.9 962.5,1268.8 965.5,1268.7 968.5,1268.6 971.5,1268.6 974.5,1268.5 977.5,1268.4 980.5,1268.3 983.5,1268.3 986.5,1268.2 989.5,1268.1 992.5,1268.0 995.5,1267.9 998.5,1267.8 1001.5,1267.8 1004.5,1267.7 1007.5,1267.6 1010.5,1267.5 1013.5,1267.4 1016.5,1267.3 1019.5,1267.2 1022.5,1267.1 1025.5,1267.0 1028.5,1267.0 1031.5,1266.9 1034.5,1266.8 1037.5,1266.7 1040.5,1266.6 1043.5,1266.5 1046.5,1266.4 1049.5,1266.3 1052.5,1266.2 1055.5,1266.1 1058.5,1266.0 1061.5,1265.8 1064.5,1265.7 1067.5,1265.6 1070.5,1265.5 1073.5,1265.4 1076.5,1265.3 1079.5,1265.2 1082.5,1265.1 1085.5,1264.9 1088.5,1264.8 1091.5,1264.7 1094.5,1264.6 1097.5,1264.5 1100.5,1264.3 1103.5,1264.2 1106.5,1264.1 1109.5,1264.0 1112.5,1263.8 1115.5,1263.7 1118.5,1263.6 1121.5,1263.4 1124.5,1263.3 1127.5,1263.2 1130.5,1263.0 1133.5,1262.9 1136.5,1262.7 1139.5,1262.6 1142.5,1262.5 1145.5,1262.3 1148.5,1262.2 1151.5,1262.0 1154.5,1261.9 1157.5,1261.7 1160.5,1261.6 1163.5,1261.4 1166.5,1261.2 1169.5,1261.1 1172.5,1260.9 1175.5,1260.8 1178.5,1260.6 1181.5,1260.4 1184.5,1260.3 1187.5,1260.1 1190.5,1259.9 1193.5,1259.7 1196.5,1259.6 1199.5,1259.4 1202.5,1259.2 1205.5,1259.0 1208.5,1258.9 1211.5,1258.7 1214.5,1258.5 1217.5,1258.3 1220.5,1258.1 1223.5,1257.9 1226.5,1257.7 1229.5,1257.5 1232.5,1257.3 1235.5,1257.1 1238.5,1256.9 1241.5,1256.7 1244.5,1256.5 1247.5,1256.3 1250.5,1256.1 1253.5,1255.9 1256.5,1255.7 1259.5,1255.5 1262.5,1255.2 1265.5,1255.0 1268.5,1254.8 1271.5,1254.6 1274.5,1254.3 1277.5,1254.1 1280.5,1253.9 1283.5,1253.6 1286.5,1253.4 1289.5,1253.2 1292.5,1252.9 1295.5,1252.7 1298.5,1252.5 1301.5,1252.2 1304.5,1252.0 1307.5,1251.7 1310.5,1251.5 1313.5,1251.3 1316.5,1251.0 1319.5,1250.8 1322.5,1250.5 1325.5,1250.3 1328.5,1250.0 1331.5,1249.8 1334.5,1249.5 1337.5,1249.3 1340.5,1249.0 1343.5,1248.8 1346.5,1248.6 1349.5,1248.3 1352.5,1248.1 1355.5,1247.8 1358.5,1247.6 1361.5,1247.3 1364.5,1247.1 1367.5,1246.8 1370.5,1246.6 1373.5,1246.3 1376.5,1246.1 1379.5,1245.9 1382.5,1245.6 1385.5,1245.4 1388.5,1245.1 1391.5,1244.9 1394.5,1244.7 1397.5,1244.4 1400.5,1244.2 1403.5,1244.0 1406.5,1243.7 1409.5,1243.5 1412.5,1243.3 1415.5,1243.1 1418.5,1242.8 1421.5,1242.6 1424.5,1242.4 1427.5,1242.2 1430.5,1242.0 1433.5,1241.8 1436.5,1241.5 1439.5,1241.3 1442.5,1241.1 1445.5,1240.9 1448.5,1240.8 1451.5,1240.6 1454.5,1240.4 1457.5,1240.2 1460.5,1240.0 1463.5,1239.8 1466.5,1239.7 1469.5,1239.5 1472.5,1239.3 1475.5,1239.2 1478.5,1239.0 1481.5,1238.9 1484.5,1238.7 1487.5,1238.6 1490.5,1238.4 1493.5,1238.3 1496.5,1238.2 1499.5,1238.1 1502.5,1237.9 1505.5,1237.8 1508.5,1237.7 1511.5,1237.6 1514.5,1237.5 1517.5,1237.4 1520.5,1237.4 1523.5,1237.3 1526.5,1237.2 1529.5,1237.2 1532.5,1237.1 1535.5,1237.0 1538.5,1237.0 1541.5,1236.9 1544.5,1236.9 1547.5,1236.9 1550.5,1236.8 1553.5,1236.8 1556.5,1236.8 1559.5,1236.8 1562.5,1236.8 1565.5,1236.8 1568.5,1236.8 1571.5,1236.8 1574.5,1236.8 1577.5,1236.8 1580.5,1236.9 1583.5,1236.9 1586.5,1236.9 1589.5,1237.0 1592.5,1237.0 1595.5,1237.1 1598.5,1237.1 1601.5,1237.2 1604.5,1237.2 1607.5,1237.3 1610.5,1237.4 1613.5,1237.5 1616.5,1237.5 1619.5,1237.6 1622.5,1237.7 1625.5,1237.8 1628.5,1237.9 1631.5,1238.0 1634.5,1238.1 1637.5,1238.2 1640.5,1238.3 1643.5,1238.4 1646.5,1238.5 1649.5,1238.6 1652.5,1238.7 1655.5,1238.9 1658.5,1239.0 1661.5,1239.1 1664.5,1239.2 1667.5,1239.3 1670.5,1239.5 1673.5,1239.6 1676.5,1239.7 1679.5,1239.9 1682.5,1240.0 1685.5,1240.1 1688.5,1240.3 1691.5,1240.4 1694.5,1240.6 1697.5,1240.7 1700.5,1240.8 1703.5,1241.0 1706.5,1241.1 1709.5,1241.3 1712.5,1241.4 1715.5,1241.6 1718.5,1241.7 1721.5,1241.8 1724.5,1242.0 1727.5,1242.1 1730.5,1242.3 1733.5,1242.4 1736.5,1242.6 1739.5,1242.7 1742.5,1242.9 1745.5,1243.0 1748.5,1243.2 1751.5,1243.3 1754.5,1243.4 1757.5,1243.6 1760.5,1243.7 1763.5,1243.9 1766.5,1244.0 1769.5,1244.1 1772.5,1244.3 1775.5,1244.4 1778.5,1244.6 1781.5,1244.7 1784.5,1244.8 1787.5,1245.0 1790.5,1245.1 1793.5,1245.2 1796.5,1245.4 1799.5,1245.5 1802.5,1245.6 1805.5,1245.7 1808.5,1245.9 1811.5,1246.0 1814.5,1246.1 1817.5,1246.2 1820.5,1246.3 1823.5,1246.5 1826.5,1246.6 1829.5,1246.7 1832.5,1246.8 1835.5,1246.9 1838.5,1247.0 1841.5,1247.1 1844.5,1247.2 1847.5,1247.4 1850.5,1247.5 1853.5,1247.6 1856.5,1247.7 1859.5,1247.8 1862.5,1247.9 1865.5,1248.0 1868.5,1248.0 1871.5,1248.1 1874.5,1248.2 1877.5,1248.3 1880.5,1248.4 1883.5,1248.5 1886.5,1248.6 1889.5,1248.7 1892.5,1248.7 1895.5,1248.8 1898.5,1248.9 1901.5,1249.0 1904.5,1249.0 1907.5,1249.1 1910.5,1249.2 1913.5,1249.2 1916.5,1249.3 1919.5,1249.4 1922.5,1249.4 1925.5,1249.5 1928.5,1249.6 1931.5,1249.6 1934.5,1249.7 1937.5,1249.7 1940.5,1249.8 1943.5,1249.8 1946.5,1249.9 1949.5,1249.9 1952.5,1250.0 1955.5,1250.0 1958.5,1250.1 1961.5,1250.1 1964.5,1250.1 1967.5,1250.2 1970.5,1250.2 1973.5,1250.2 1976.5,1250.3 1979.5,1250.3 1982.5,1250.3 1985.5,1250.4 1988.5,1250.4 1991.5,1250.4 1994.5,1250.4 1997.5,1250.5 2000.5,1250.5 2003.5,1250.5 2006.5,1250.5 2009.5,1250.6 2012.5,1250.6 2015.5,1250.6 2018.5,1250.6 2021.5,1250.6 2024.5,1250.6 2027.5,1250.6 2030.5,1250.7 2033.5,1250.7 2034.5,1250.7" stroke="#ff00ff" stroke-width="5.5"/>
<polyline points="305.5,1284.0 308.5,1284.0 311.5,1284.0 314.5,1283.9 317.5,1283.8 320.5,1283.8 323.5,1283.7 326.5,1283.6 329.5,1283.6 332.5,1283.5 335.5,1283.4 338.5,1283.4 341.5,1283.3 344.5,1283.2 347.5,1283.1 350.5,1283.1 353.5,1283.0 356.5,1282.9 359.5,1282.9 362.5,1282.8 365.5,1282.7 368.5,1282.7 371.5,1282.6 374.5,1282.5 377.5,1282.5 380.5,1282.4 383.5,1282.3 386.5,1282.3 389.5,1282.2 392.5,1282.1 395.5,1282.1 398.5,1282.0 401.5,1281.9 404.5,1281.9 407.5,1281.8 410.5,1281.7 413.5,1281.6 416.5,1281.6 419.5,1281.5 422.5,1281.4 425.5,1281.4 428.5,1281.3 431.5,1281.2 434.5,1281.2 437.5,1281.1 440.5,1281.0 443.5,1281.0 446.5,1280.9 449.5,1280.8 452.5,1280.8 455.5,1280.7 458.5,1280.6 461.5,1280.6 464.5,1280.5 467.5,1280.4 470.5,1280.4 473.5,1280.3 476.5,1280.2 479.5,1280.1 482.5,1280.1 485.5,1280.0 488.5,1279.9 491.5,1279.9 494.5,1279.8 497.5,1279.7 500.5,1279.7 503.5,1279.6 506.5,1279.5 509.5,1279.5 512.5,1279.4 515.5,1279.3 518.5,1279.3 521.5,1279.2 524.5,1279.1 527.5,1279.1 530.5,1279.0 533.5,1278.9 536.5,1278.9 539.5,1278.8 542.5,1278.7 545.5,1278.6 548.5,1278.6 551.5,1278.5 554.5,1278.4 557.5,1278.4 560.5,1278.3 563.5,1278.2 566.5,1278.2 569.5,1278.1 572.5,1278.0 575.5,1278.0 578.5,1277.9 581.5,1277.8 584.5,1277.8 587.5,1277.7 590.5,1277.6 593.5,1277.6 596.5,1277.5 599.5,1277.4 602.5,1277.4 605.5,1277.3 608.5,1277.2 611.5,1277.1 614.5,1277.1 617.5,1277.0 620.5,1276.9 623.5,1276.9 626.5,1276.8 629.5,1276.7 632.5,1276.7 635.5,1276.6 638.5,1276.5 641.5,1276.5 644.5,1276.4 647.5,1276.3 650.5,1276.3 653.5,1276.2 656.5,1276.1 659.5,1276.1 662.5,1276.0 665.5,1275.9 668.5,1275.9 671.5,1275.8 674.5,1275.7 677.5,1275.6 680.5,1275.6 683.5,1275.5 686.5,1275.4 689.5,1275.4 692.5,1275.3 695.5,1275.2 698.5,1275.2 701.5,1275.1 704.5,1275.0 707.5,1275.0 710.5,1274.9 713.5,1274.8 716.5,1274.8 719.5,1274.7 722.5,1274.6 725.5,1274.6 728.5,1274.5 731.5,1274.4 734.5,1274.4 737.5,1274.3 740.5,1274.2 743.5,1274.1 746.5,1274.1 749.5,1274.0 752.5,1274.0 755.5,1273.9 758.5,1273.9 761.5,1273.8 764.5,1273.8 767.5,1273.8 770.5,1273.7 773.5,1273.7 776.5,1273.6 779.5,1273.6 782.5,1273.5 785.5,1273.5 788.5,1273.5 791.5,1273.4 794.5,1273.4 797.5,1273.3 800.5,1273.3 803.5,1273.2 806.5,1273.2 809.5,1273.2 812.5,1273.1 815.5,1273.1 818.5,1273.0 821.5,1273.0 824.5,1272.9 827.5,1272.9 830.5,1272.8 833.5,1272.8 836.5,1272.8 839.5,1272.7 842.5,1272.7 845.5,1272.6 848.5,1272.6 851.5,1272.5 854.5,1272.5 857.5,1272.5 860.5,1272.4 863.5,1272.4 866.5,1272.3 869.5,1272.3 872.5,1272.2 875.5,1272.2 878.5,1272.2 881.5,1272.1 884.5,1272.1 887.5,1272.0 890.5,1272.0 893.5,1272.0 896.5,1271.9 899.5,1271.9 902.5,1271.8 905.5,1271.8 908.5,1271.7 911.5,1271.7 914.5,1271.7 917.5,1271.6 920.5,1271.6 923.5,1271.5 926.5,1271.5 929.5,1271.4 932.5,1271.4 935.5,1271.3 938.5,1271.3 941.5,1271.3 944.5,1271.2 947.5,1271.2 950.5,1271.1 953.5,1271.1 956.5,1271.0 959.5,1271.0 962.5,1271.0 965.5,1270.9 968.5,1270.9 971.5,1270.8 974.5,1270.8 977.5,1270.8 980.5,1270.7 983.5,1270.7 986.5,1270.6 989.5,1270.6 992.5,1270.5 995.5,1270.5 998.5,1270.5 1001.5,1270.4 1004.5,1270.4 1007.5,1270.3 1010.5,1270.3 1013.5,1270.2 1016.5,1270.2 1019.5,1270.2 1022.5,1270.1 1025.5,1270.1 1028.5,1270.0 1031.5,1270.0 1034.5,1269.9 1037.5,1269.9 1040.5,1269.8 1043.5,1269.8 1046.5,1269.8 1049.5,1269.7 1052.5,1269.7 1055.5,1269.6 1058.5,1269.6 1061.5,1269.5 1064.5,1269.5 1067.5,1269.5 1070.5,1269.4 1073.5,1269.4 1076.5,1269.3 1079.5,1269.3 1082.5,1269.2 1085.5,1269.2 1088.5,1269.2 1091.5,1269.1 1094.5,1269.1 1097.5,1269.0 1100.5,1269.0 1103.5,1269.0 1106.5,1268.9 1109.5,1268.9 1112.5,1268.8 1115.5,1268.8 1118.5,1268.8 1121.5,1268.7 1124.5,1268.7 1127.5,1268.6 1130.5,1268.6 1133.5,1268.6 1136.5,1268.5 1139.5,1268.5 1142.5,1268.4 1145.5,1268.4 1148.5,1268.4 1151.5,1268.3 1154.5,1268.3 1157.5,1268.2 1160.5,1268.2 1163.5,1268.2 1166.5,1268.1 1169.5,1268.1 1172.5,1268.0 1175.5,1268.0 1178.5,1268.0 1181.5,1267.9 1184.5,1267.9 1187.5,1267.8 1190.5,1267.8 1193.5,1267.8 1196.5,1267.7 1199.5,1267.7 1202.5,1267.6 1205.5,1267.6 1208.5,1267.6 1211.5,1267.5 1214.5,1267.5 1217.5,1267.4 1220.5,1267.4 1223.5,1267.4 1226.5,1267.3 1229.5,1267.3 1232.5,1267.2 1235.5,1267.2 1238.5,1267.2 1241.5,1267.1 1244.5,1267.1 1247.5,1267.0 1250.5,1267.0 1253.5,1266.9 1256.5,1266.9 1259.5,1266.8 1262.5,1266.8 1265.5,1266.7 1268.5,1266.7 1271.5,1266.6 1274.5,1266.6 1277.5,1266.5 1280.5,1266.5 1283.5,1266.4 1286.5,1266.4 1289.5,1266.3 1292.5,1266.3 1295.5,1266.2 1298.5,1266.1 1301.5,1266.1 1304.5,1266.0 1307.5,1266.0 1310.5,1265.9 1313.5,1265.9 1316.5,1265.8 1319.5,1265.8 1322.5,1265.7 1325.5,1265.7 1328.5,1265.6 1331.5,1265.6 1334.5,1265.5 1337.5,1265.5 1340.5,1265.4 1343.5,1265.4 1346.5,1265.3 1349.5,1265.2 1352.5,1265.2 1355.5,1265.1 1358.5,1265.1 1361.5,1265.0 1364.5,1265.0 1367.5,1264.9 1370.5,1264.9 1373.5,1264.8 1376.5,1264.8 1379.5,1264.7 1382.5,1264.7 1385.5,1264.6 1388.5,1264.6 1391.5,1264.5 1394.5,1264.5 1397.5,1264.4 1400.5,1264.4 1403.5,1264.3 1406.5,1264.2 1409.5,1264.2 1412.5,1264.1 1415.5,1264.1 1418.5,1264.0 1421.5,1264.0 1424.5,1263.9 1427.5,1263.9 1430.5,1263.8 1433.5,1263.8 1436.5,1263.7 1439.5,1263.7 1442.5,1263.6 1445.5,1263.6 1448.5,1263.5 1451.5,1263.5 1454.5,1263.4 1457.5,1263.3 1460.5,1263.3 1463.5,1263.2 1466.5,1263.2 1469.5,1263.1 1472.5,1263.1 1475.5,1263.0 1478.5,1263.0 1481.5,1262.9 1484.5,1262.9 1487.5,1262.8 1490.5,1262.8 1493.5,1262.7 1496.5,1262.7 1499.5,1262.6 1502.5,1262.6 1505.5,1262.5 1508.5,1262.5 1511.5,1262.4 1514.5,1262.4 1517.5,1262.3 1520.5,1262.3 1523.5,1262.2 1526.5,1262.2 1529.5,1262.1 1532.5,1262.1 1535.5,1262.0 1538.5,1262.0 1541.5,1261.9 1544.5,1261.9 1547.5,1261.8 1550.5,1261.8 1553.5,1261.7 1556.5,1261.7 1559.5,1261.6 1562.5,1261.6 1565.5,1261.5 1568.5,1261.5 1571.5,1261.4 1574.5,1261.4 1577.5,1261.3 1580.5,1261.3 1583.5,1261.2 1586.5,1261.2 1589.5,1261.1 1592.5,1261.1 1595.5,1261.1 1598.5,1261.0 1601.5,1261.0 1604.5,1260.9 1607.5,1260.9 1610.5,1260.8 1613.5,1260.8 1616.5,1260.7 1619.5,1260.7 1622.5,1260.6 1625.5,1260.6 1628.5,1260.5 1631.5,1260.5 1634.5,1260.4 1637.5,1260.4 1640.5,1260.3 1643.5,1260.3 1646.5,1260.2 1649.5,1260.2 1652.5,1260.1 1655.5,1260.1 1658.5,1260.0 1661.5,1260.0 1664.5,1259.9 1667.5,1259.9 1670.5,1259.8 1673.5,1259.8 1676.5,1259.7 1679.5,1259.7 1682.5,1259.6 1685.5,1259.6 1688.5,1259.5 1691.5,1259.5 1694.5,1259.4 1697.5,1259.4 1700.5,1259.3 1703.5,1259.3 1706.5,1259.2 1709.5,1259.2 1712.5,1259.2 1715.5,1259.1 1718.5,1259.1 1721.5,1259.0 1724.5,1259.0 1727.5,1258.9 1730.5,1258.9 1733.5,1258.8 1736.5,1258.8 1739.5,1258.7 1742.5,1258.7 1745.5,1258.6 1748.5,1258.6 1751.5,1258.5 1754.5,1258.5 1757.5,1258.4 1760.5,1258.4 1763.5,1258.3 1766.5,1258.3 1769.5,1258.2 1772.5,1258.2 1775.5,1258.1 1778.5,1258.1 1781.5,1258.0 1784.5,1258.0 1787.5,1257.9 1790.5,1257.9 1793.5,1257.8 1796.5,1257.8 1799.5,1257.7 1802.5,1257.7 1805.5,1257.6 1808.5,1257.6 1811.5,1257.5 1814.5,1257.5 1817.5,1257.4 1820.5,1257.4 1823.5,1257.4 1826.5,1257.3 1829.5,1257.3 1832.5,1257.2 1835.5,1257.2 1838.5,1257.1 1841.5,1257.1 1844.5,1257.0 1847.5,1257.0 1850.5,1256.9 1853.5,1256.9 1856.5,1256.8 1859.5,1256.8 1862.5,1256.7 1865.5,1256.7 1868.5,1256.6 1871.5,1256.6 1874.5,1256.5 1877.5,1256.5 1880.5,1256.4 1883.5,1256.4 1886.5,1256.3 1889.5,1256.3 1892.5,1256.2 1895.5,1256.2 1898.5,1256.1 1901.5,1256.1 1904.5,1256.0 1907.5,1256.0 1910.5,1255.9 1913.5,1255.9 1916.5,1255.8 1919.5,1255.8 1922.5,1255.7 1925.5,1255.7 1928.5,1255.6 1931.5,1255.6 1934.5,1255.5 1937.5,1255.5 1940.5,1255.5 1943.5,1255.4 1946.5,1255.4 1949.5,1255.3 1952.5,1255.3 1955.5,1255.2 1958.5,1255.2 1961.5,1255.1 1964.5,1255.1 1967.5,1255.0 1970.5,1255.0 1973.5,1254.9 1976.5,1254.9 1979.5,1254.8 1982.5,1254.8 1985.5,1254.7 1988.5,1254.7 1991.5,1254.6 1994.5,1254.6 1997.5,1254.5 2000.5,1254.5 2003.5,1254.4 2006.5,1254.4 2009.5,1254.3 2012.5,1254.3 2015.5,1254.2 2018.5,1254.2 2021.5,1254.1 2024.5,1254.1 2027.5,1254.0 2030.5,1254.0 2033.5,1254.0 2034.5,1254.0" stroke="#808000" stroke-width="5.5"/>
<polyline points="305.5,1281.2 306.0,1281.2 312.5,1280.1 319.5,1279.1 326.5,1278.8 333.5,1279.0 340.5,1280.9 347.5,1282.1 354.5,1280.3 361.5,1279.5 368.5,1280.8 375.5,1281.1 382.5,1279.9 389.5,1278.8 396.0,1279.8 396.5,1280.0 403.5,1278.2 410.5,1276.9 417.5,1275.9 424.5,1275.3 431.5,1276.0 438.5,1277.0 445.5,1277.7 452.5,1279.0 459.5,1279.6 466.5,1277.3 473.5,1275.2 480.5,1276.6 487.5,1278.7 491.0,1278.1 494.5,1276.6 501.5,1276.5 508.5,1276.5 515.5,1277.7 522.5,1279.0 529.5,1278.2 536.5,1278.5 543.5,1279.3 550.5,1278.1 557.5,1277.8 564.5,1278.4 571.5,1277.5 578.5,1276.5 585.5,1278.2 587.0,1278.9 592.5,1277.0 599.5,1277.4 606.5,1277.1 613.5,1276.9 620.5,1278.8 627.5,1277.1 634.5,1273.9 641.5,1274.3 648.5,1274.9 651.0,1274.6 655.5,1274.6 662.5,1274.4 669.5,1275.2 676.0,1275.0 676.5,1273.2 683.5,1271.9 690.5,1271.4 697.5,1270.2 700.0,1269.0 704.5,1268.3 711.5,1268.6 715.0,1269.9 718.5,1268.5 725.5,1264.1 732.5,1262.6 738.0,1262.0 739.5,1259.8 746.5,1258.1 753.0,1258.4 753.5,1260.1 760.5,1258.3 764.0,1255.8 767.5,1252.8 774.5,1249.7 778.0,1248.7 781.5,1245.7 787.0,1242.5 788.5,1242.4 795.5,1238.7 802.5,1234.1 807.0,1231.3 809.5,1228.8 816.5,1221.4 823.5,1214.4 828.0,1208.7 830.5,1204.0 837.5,1192.8 844.5,1181.9 851.0,1172.2 851.5,1170.6 858.5,1148.4 865.5,1126.3 866.0,1124.4 872.5,1107.0 874.0,1102.8 879.5,1084.2 884.0,1068.6 886.5,1067.2 893.5,1057.6 896.0,1051.0 900.5,1029.4 904.0,1015.2 907.5,1004.3 914.5,980.8 916.0,976.1 921.5,963.5 926.0,951.5 928.5,941.9 935.5,920.1 938.0,912.3 942.0,874.7 942.5,872.2 946.0,852.7 949.5,843.8 954.0,831.0 956.5,827.8 963.5,821.6 964.0,820.0 970.5,783.4 972.0,776.3 977.5,758.3 984.5,733.7 991.5,710.2 992.0,708.7 998.5,702.1 1005.5,695.1 1012.5,688.1 1013.0,686.7 1019.5,673.7 1020.0,675.7 1026.5,672.1 1031.0,666.7 1033.5,666.2 1040.5,667.8 1041.0,668.3 1047.5,672.9 1054.5,676.2 1056.0,676.0 1061.5,679.8 1068.5,684.7 1071.0,687.7 1075.5,698.5 1082.5,712.6 1087.0,721.3 1089.5,723.2 1096.5,730.2 1102.0,736.7 1103.5,741.1 1110.5,760.6 1117.0,778.3 1117.5,778.3 1124.5,790.4 1131.5,805.3 1133.0,810.3 1138.5,816.7 1143.0,822.3 1145.5,830.4 1150.0,841.2 1152.5,845.5 1159.5,863.7 1166.5,882.0 1169.0,888.6 1173.5,900.0 1180.5,915.1 1187.5,928.5 1188.0,929.3 1194.5,949.9 1198.0,960.5 1201.5,963.1 1208.5,969.0 1214.0,975.5 1215.5,979.7 1222.5,989.1 1229.5,998.2 1233.0,1002.8 1236.5,1013.1 1239.0,1021.4 1243.5,1027.7 1250.5,1035.7 1257.5,1043.8 1259.0,1046.7 1264.5,1056.5 1271.5,1067.1 1278.0,1075.6 1278.5,1073.9 1285.5,1079.8 1292.5,1088.5 1299.5,1095.5 1306.5,1100.4 1307.0,1101.2 1313.5,1106.2 1320.5,1111.0 1327.5,1114.7 1334.5,1118.7 1341.5,1123.0 1348.5,1126.5 1355.5,1131.7 1362.5,1137.5 1369.5,1142.9 1371.0,1145.3 1376.5,1146.9 1383.5,1146.8 1390.5,1150.2 1397.5,1156.3 1404.5,1160.4 1411.5,1165.3 1418.5,1169.7 1419.0,1166.8 1425.5,1169.6 1432.5,1176.2 1439.5,1181.2 1446.5,1184.6 1453.5,1188.0 1460.5,1190.2 1467.0,1193.2 1467.5,1194.2 1474.5,1196.0 1481.5,1198.4 1488.5,1203.0 1495.5,1206.5 1502.5,1208.2 1509.5,1209.3 1516.5,1211.0 1523.5,1213.3 1530.0,1216.2 1530.5,1217.2 1537.5,1218.0 1544.5,1219.6 1551.5,1222.2 1558.5,1222.8 1565.5,1221.4 1572.5,1222.2 1579.5,1223.2 1586.5,1222.2 1593.5,1221.6 1600.5,1223.5 1604.0,1225.7 1607.5,1225.8 1614.5,1226.0 1621.5,1227.3 1628.5,1229.0 1635.5,1227.6 1642.5,1225.5 1649.5,1225.9 1656.5,1225.0 1663.5,1225.0 1670.5,1229.9 1677.5,1234.3 1684.5,1233.7 1691.5,1231.9 1698.5,1233.6 1699.0,1236.0 1705.5,1236.4 1712.5,1235.9 1719.5,1236.1 1726.5,1237.1 1733.5,1238.5 1740.5,1238.8 1747.5,1237.7 1754.5,1237.2 1761.5,1238.0 1768.5,1239.1 1775.5,1239.5 1782.5,1238.6 1789.5,1239.0 1796.5,1239.5 1803.5,1240.2 1810.5,1243.8 1817.5,1244.6 1824.5,1243.0 1831.5,1243.5 1838.5,1242.1 1845.5,1240.0 1852.5,1242.1 1859.0,1244.1 1859.5,1243.3 1866.5,1242.6 1873.5,1243.2 1880.5,1245.0 1887.5,1246.6 1894.5,1246.3 1901.5,1246.5 1908.5,1247.2 1915.5,1245.7 1922.5,1243.7 1929.5,1244.3 1936.5,1247.9 1943.5,1249.6 1950.5,1249.1 1957.5,1248.5 1964.5,1247.9 1971.5,1247.5 1978.5,1247.1 1985.5,1247.3 1992.5,1248.9 1999.5,1250.7 2006.5,1250.1 2013.5,1248.4 2020.5,1247.4 2027.5,1248.8 2030.0,1251.2 2034.5,1250.8" stroke="#000" stroke-width="8.5"/>
<polyline points="305.5,1281.0 308.5,1281.0 311.5,1281.0 314.5,1280.9 317.5,1280.8 320.5,1280.7 323.5,1280.6 326.5,1280.5 329.5,1280.4 332.5,1280.4 335.5,1280.3 338.5,1280.2 341.5,1280.1 344.5,1280.0 347.5,1279.9 350.5,1279.8 353.5,1279.7 356.5,1279.7 359.5,1279.6 362.5,1279.5 365.5,1279.4 368.5,1279.3 371.5,1279.2 374.5,1279.1 377.5,1279.0 380.5,1279.0 383.5,1278.9 386.5,1278.8 389.5,1278.8 392.5,1278.8 395.5,1278.9 398.5,1279.2 401.5,1279.6 404.5,1280.1 407.5,1280.6 410.5,1281.0 413.5,1281.3 416.5,1281.4 419.5,1281.5 422.5,1281.5 425.5,1281.4 428.5,1281.4 431.5,1281.3 434.5,1281.2 437.5,1281.1 440.5,1281.0 443.5,1280.9 446.5,1280.8 449.5,1280.7 452.5,1280.6 455.5,1280.5 458.5,1280.4 461.5,1280.3 464.5,1280.2 467.5,1280.1 470.5,1280.0 473.5,1279.9 476.5,1279.8 479.5,1279.7 482.5,1279.6 485.5,1279.5 488.5,1279.4 491.5,1279.3 494.5,1279.2 497.5,1279.1 500.5,1279.0 503.5,1278.9 506.5,1278.8 509.5,1278.7 512.5,1278.6 515.5,1278.4 518.5,1278.3 521.5,1278.2 524.5,1278.1 527.5,1278.0 530.5,1277.9 533.5,1277.8 536.5,1277.7 539.5,1277.6 542.5,1277.4 545.5,1277.3 548.5,1277.2 551.5,1277.1 554.5,1277.0 557.5,1276.9 560.5,1276.7 563.5,1276.6 566.5,1276.5 569.5,1276.4 572.5,1276.3 575.5,1276.1 578.5,1276.0 581.5,1275.9 584.5,1275.8 587.5,1275.8 590.5,1275.7 593.5,1275.8 596.5,1275.9 599.5,1276.0 602.5,1276.2 605.5,1276.3 608.5,1276.4 611.5,1276.4 614.5,1276.3 617.5,1276.2 620.5,1276.1 623.5,1275.9 626.5,1275.8 629.5,1275.7 632.5,1275.5 635.5,1275.3 638.5,1275.2 641.5,1275.0 644.5,1274.9 647.5,1274.7 650.5,1274.5 653.5,1274.4 656.5,1274.2 659.5,1274.0 662.5,1273.8 665.5,1273.6 668.5,1273.4 671.5,1273.2 674.5,1273.0 677.5,1272.8 680.5,1272.6 683.5,1272.3 686.5,1272.1 689.5,1271.8 692.5,1271.5 695.5,1271.2 698.5,1270.9 701.5,1270.6 704.5,1270.2 707.5,1269.8 710.5,1269.4 713.5,1269.0 716.5,1268.5 719.5,1268.0 722.5,1267.5 725.5,1266.9 728.5,1266.3 731.5,1265.7 734.5,1265.0 737.5,1264.3 740.5,1263.6 743.5,1262.9 746.5,1262.1 749.5,1261.3 752.5,1260.5 755.5,1259.7 758.5,1258.8 761.5,1257.8 764.5,1256.8 767.5,1255.8 770.5,1254.7 773.5,1253.5 776.5,1252.2 779.5,1250.8 782.5,1249.3 785.5,1247.7 788.5,1246.0 791.5,1244.1 794.5,1242.1 797.5,1240.0 800.5,1237.7 803.5,1235.3 806.5,1232.6 809.5,1229.9 812.5,1226.9 815.5,1223.7 818.5,1220.4 821.5,1216.8 824.5,1213.0 827.5,1209.0 830.5,1204.8 833.5,1200.4 836.5,1195.7 839.5,1190.8 842.5,1185.6 845.5,1180.2 848.5,1174.6 851.5,1168.6 854.5,1162.4 857.5,1156.0 860.5,1149.2 863.5,1142.2 866.5,1135.0 869.5,1127.4 872.5,1119.6 875.5,1111.6 878.5,1103.2 881.5,1094.6 884.5,1085.8 887.5,1076.8 890.5,1067.5 893.5,1058.0 896.5,1048.4 899.5,1038.5 902.5,1028.5 905.5,1018.3 908.5,1008.0 911.5,997.4 914.5,986.7 917.5,975.8 920.5,964.7 923.5,953.5 926.5,942.1 929.5,930.6 932.5,919.1 935.5,907.6 938.5,896.1 941.5,884.6 944.5,873.2 947.5,861.8 950.5,850.6 953.5,839.5 956.5,828.5 959.5,817.8 962.5,807.2 965.5,796.9 968.5,786.9 971.5,777.1 974.5,767.7 977.5,758.6 980.5,749.9 983.5,741.5 986.5,733.5 989.5,725.9 992.5,718.8 995.5,712.0 998.5,705.7 1001.5,699.9 1004.5,694.5 1007.5,689.6 1010.5,685.1 1013.5,681.0 1016.5,677.5 1019.5,674.3 1022.5,671.7 1025.5,669.4 1028.5,667.7 1031.5,666.3 1034.5,665.4 1037.5,664.9 1040.5,664.9 1043.5,665.3 1046.5,666.0 1049.5,667.2 1052.5,668.8 1055.5,670.8 1058.5,673.1 1061.5,675.8 1064.5,678.9 1067.5,682.3 1070.5,686.1 1073.5,690.2 1076.5,694.6 1079.5,699.3 1082.5,704.3 1085.5,709.6 1088.5,715.1 1091.5,720.9 1094.5,726.9 1097.5,733.2 1100.5,739.6 1103.5,746.2 1106.5,752.9 1109.5,759.8 1112.5,766.8 1115.5,774.0 1118.5,781.2 1121.5,788.5 1124.5,795.9 1127.5,803.3 1130.5,810.7 1133.5,818.1 1136.5,825.6 1139.5,833.0 1142.5,840.4 1145.5,847.8 1148.5,855.0 1151.5,862.3 1154.5,869.4 1157.5,876.4 1160.5,883.3 1163.5,890.0 1166.5,896.5 1169.5,902.7 1172.5,908.7 1175.5,914.4 1178.5,919.9 1181.5,925.1 1184.5,930.2 1187.5,935.3 1190.5,940.3 1193.5,945.4 1196.5,950.6 1199.5,955.8 1202.5,961.0 1205.5,966.1 1208.5,971.3 1211.5,976.3 1214.5,981.3 1217.5,986.2 1220.5,991.0 1223.5,995.6 1226.5,1000.2 1229.5,1004.7 1232.5,1009.1 1235.5,1013.4 1238.5,1017.6 1241.5,1021.7 1244.5,1025.8 1247.5,1029.7 1250.5,1033.6 1253.5,1037.5 1256.5,1041.3 1259.5,1045.0 1262.5,1048.7 1265.5,1052.3 1268.5,1055.9 1271.5,1059.4 1274.5,1062.9 1277.5,1066.4 1280.5,1069.8 1283.5,1073.2 1286.5,1076.5 1289.5,1079.7 1292.5,1082.9 1295.5,1085.9 1298.5,1088.9 1301.5,1091.8 1304.5,1094.7 1307.5,1097.4 1310.5,1100.0 1313.5,1102.6 1316.5,1105.0 1319.5,1107.4 1322.5,1109.8 1325.5,1112.0 1328.5,1114.2 1331.5,1116.3 1334.5,1118.4 1337.5,1120.4 1340.5,1122.4 1343.5,1124.3 1346.5,1126.2 1349.5,1128.1 1352.5,1130.0 1355.5,1131.9 1358.5,1133.8 1361.5,1135.6 1364.5,1137.5 1367.5,1139.4 1370.5,1141.2 1373.5,1143.1 1376.5,1144.9 1379.5,1146.8 1382.5,1148.6 1385.5,1150.4 1388.5,1152.3 1391.5,1154.1 1394.5,1155.9 1397.5,1157.7 1400.5,1159.5 1403.5,1161.3 1406.5,1163.0 1409.5,1164.8 1412.5,1166.6 1415.5,1168.3 1418.5,1170.0 1421.5,1171.7 1424.5,1173.4 1427.5,1175.1 1430.5,1176.8 1433.5,1178.5 1436.5,1180.1 1439.5,1181.7 1442.5,1183.3 1445.5,1184.9 1448.5,1186.4 1451.5,1187.9 1454.5,1189.4 1457.5,1190.9 1460.5,1192.3 1463.5,1193.7 1466.5,1195.1 1469.5,1196.5 1472.5,1197.8 1475.5,1199.1 1478.5,1200.3 1481.5,1201.6 1484.5,1202.8 1487.5,1203.9 1490.5,1205.1 1493.5,1206.2 1496.5,1207.3 1499.5,1208.4 1502.5,1209.5 1505.5,1210.5 1508.5,1211.5 1511.5,1212.4 1514.5,1213.4 1517.5,1214.3 1520.5,1215.2 1523.5,1216.1 1526.5,1216.9 1529.5,1217.7 1532.5,1218.5 1535.5,1219.3 1538.5,1220.0 1541.5,1220.7 1544.5,1221.4 1547.5,1222.1 1550.5,1222.7 1553.5,1223.3 1556.5,1223.9 1559.5,1224.5 1562.5,1225.0 1565.5,1225.6 1568.5,1226.1 1571.5,1226.6 1574.5,1227.1 1577.5,1227.6 1580.5,1228.1 1583.5,1228.6 1586.5,1229.0 1589.5,1229.5 1592.5,1229.9 1595.5,1230.4 1598.5,1230.8 1601.5,1231.3 1604.5,1231.7 1607.5,1232.1 1610.5,1232.5 1613.5,1232.9 1616.5,1233.3 1619.5,1233.7 1622.5,1234.1 1625.5,1234.4 1628.5,1234.7 1631.5,1234.9 1634.5,1235.2 1637.5,1235.3 1640.5,1235.4 1643.5,1235.5 1646.5,1235.5 1649.5,1235.4 1652.5,1235.2 1655.5,1235.1 1658.5,1234.9 1661.5,1234.9 1664.5,1234.8 1667.5,1234.8 1670.5,1234.9 1673.5,1235.0 1676.5,1235.2 1679.5,1235.4 1682.5,1235.6 1685.5,1235.8 1688.5,1236.0 1691.5,1236.3 1694.5,1236.5 1697.5,1236.7 1700.5,1237.0 1703.5,1237.2 1706.5,1237.5 1709.5,1237.7 1712.5,1237.9 1715.5,1238.2 1718.5,1238.4 1721.5,1238.6 1724.5,1238.9 1727.5,1239.1 1730.5,1239.3 1733.5,1239.5 1736.5,1239.7 1739.5,1239.9 1742.5,1240.2 1745.5,1240.4 1748.5,1240.6 1751.5,1240.8 1754.5,1241.0 1757.5,1241.2 1760.5,1241.4 1763.5,1241.6 1766.5,1241.8 1769.5,1242.0 1772.5,1242.2 1775.5,1242.4 1778.5,1242.5 1781.5,1242.7 1784.5,1242.9 1787.5,1243.1 1790.5,1243.3 1793.5,1243.5 1796.5,1243.6 1799.5,1243.8 1802.5,1244.0 1805.5,1244.1 1808.5,1244.3 1811.5,1244.4 1814.5,1244.6 1817.5,1244.7 1820.5,1244.9 1823.5,1245.0 1826.5,1245.2 1829.5,1245.3 1832.5,1245.5 1835.5,1245.6 1838.5,1245.8 1841.5,1245.9 1844.5,1246.0 1847.5,1246.2 1850.5,1246.3 1853.5,1246.4 1856.5,1246.5 1859.5,1246.7 1862.5,1246.8 1865.5,1246.9 1868.5,1247.0 1871.5,1247.1 1874.5,1247.2 1877.5,1247.3 1880.5,1247.5 1883.5,1247.6 1886.5,1247.7 1889.5,1247.8 1892.5,1247.9 1895.5,1248.0 1898.5,1248.1 1901.5,1248.2 1904.5,1248.2 1907.5,1248.3 1910.5,1248.4 1913.5,1248.5 1916.5,1248.6 1919.5,1248.7 1922.5,1248.7 1925.5,1248.8 1928.5,1248.8 1931.5,1248.8 1934.5,1248.7 1937.5,1248.6 1940.5,1248.5 1943.5,1248.5 1946.5,1248.5 1949.5,1248.5 1952.5,1248.5 1955.5,1248.6 1958.5,1248.6 1961.5,1248.7 1964.5,1248.7 1967.5,1248.8 1970.5,1248.8 1973.5,1248.9 1976.5,1248.9 1979.5,1249.0 1982.5,1249.0 1985.5,1249.0 1988.5,1249.1 1991.5,1249.1 1994.5,1249.2 1997.5,1249.2 2000.5,1249.2 2003.5,1249.3 2006.5,1249.3 2009.5,1249.3 2012.5,1249.4 2015.5,1249.4 2018.5,1249.4 2021.5,1249.4 2024.5,1249.5 2027.5,1249.5 2030.5,1249.5 2033.5,1249.6 2034.5,1249.6" stroke="#000080" stroke-width="8"/>
<polyline points="305.5,1160.9 306.0,1160.0 312.5,1160.0 319.5,1161.8 326.5,1163.2 333.5,1162.9 340.5,1162.9 347.5,1163.7 348.0,1163.1 354.5,1161.8 361.5,1161.6 368.5,1162.1 375.5,1162.4 382.5,1161.8 389.5,1162.5 396.0,1162.8 396.5,1161.2 403.5,1160.3 410.5,1160.9 417.5,1160.6 424.5,1160.2 431.5,1162.1 438.5,1163.3 445.5,1161.7 452.5,1160.1 459.0,1159.9 459.5,1160.1 466.5,1159.2 473.5,1159.8 480.5,1161.3 487.5,1161.3 494.5,1162.5 501.5,1163.4 508.5,1162.4 515.5,1162.8 522.5,1163.3 523.0,1161.5 529.5,1159.1 536.5,1158.4 543.5,1159.8 550.5,1161.5 557.5,1160.2 564.5,1157.4 571.5,1156.2 578.5,1156.7 585.5,1157.0 587.0,1157.1 592.5,1157.8 599.5,1158.5 606.5,1158.6 613.5,1159.4 619.0,1160.2 620.5,1160.0 627.5,1160.1 634.5,1160.1 641.5,1158.0 648.5,1154.5 655.5,1152.3 662.5,1151.2 667.0,1149.3 669.5,1150.2 676.5,1153.8 683.5,1155.4 689.0,1154.3 690.5,1152.2 697.5,1149.5 704.5,1147.5 711.5,1146.5 718.0,1145.0 718.5,1143.0 725.5,1139.7 732.5,1138.4 734.0,1139.2 739.5,1135.7 746.5,1130.9 750.0,1128.9 753.5,1127.1 760.5,1124.2 765.0,1122.4 767.5,1118.1 773.0,1109.4 774.5,1107.9 781.0,1101.9 781.5,1100.8 788.5,1093.7 795.0,1086.6 795.5,1086.1 802.5,1073.5 809.5,1059.4 811.0,1056.7 816.5,1039.8 823.5,1016.7 827.0,1006.3 830.5,1002.4 837.0,992.3 837.5,990.5 844.5,965.3 847.0,955.1 851.5,940.5 858.5,921.0 860.0,918.6 865.5,894.3 867.0,886.9 872.5,866.8 879.0,842.1 879.5,837.6 886.5,780.2 888.0,766.8 893.5,749.5 900.5,728.1 907.5,704.6 913.0,685.3 914.5,678.7 921.5,651.5 926.0,634.0 928.5,627.0 935.5,605.1 937.0,599.8 942.5,584.6 949.0,565.4 949.5,563.1 956.5,553.1 959.0,550.2 963.5,552.4 968.0,553.9 970.5,547.0 977.0,529.6 977.5,529.3 984.5,533.5 987.0,536.7 991.5,539.9 995.0,540.8 998.5,540.4 1004.0,539.7 1005.5,542.2 1011.0,551.1 1012.5,550.9 1019.5,547.2 1020.0,546.2 1026.5,560.1 1031.0,569.5 1033.5,584.4 1036.0,600.1 1040.5,612.1 1047.5,630.3 1048.0,630.7 1054.5,641.5 1059.0,650.3 1061.5,665.5 1068.5,704.8 1069.0,706.5 1075.5,738.7 1079.0,756.4 1082.5,762.0 1089.5,770.7 1092.0,773.4 1096.5,780.7 1099.0,784.3 1103.5,802.4 1110.5,832.9 1112.0,840.0 1117.5,855.7 1124.5,875.9 1131.5,894.8 1133.0,899.1 1138.5,905.3 1145.5,912.2 1150.0,916.5 1152.5,922.4 1159.5,940.2 1166.0,959.3 1166.5,962.4 1173.5,969.3 1180.5,975.6 1182.0,977.2 1187.5,984.7 1194.5,995.3 1201.0,1004.6 1201.5,1002.4 1208.5,1005.1 1215.5,1009.8 1222.5,1015.5 1229.5,1022.2 1230.0,1022.8 1236.5,1024.7 1243.5,1028.2 1246.0,1031.6 1250.5,1033.6 1257.5,1034.7 1264.5,1038.0 1268.0,1040.7 1271.5,1043.0 1278.5,1046.4 1285.5,1049.6 1290.0,1051.6 1292.5,1054.5 1299.5,1061.6 1306.5,1066.1 1307.0,1064.5 1313.5,1062.3 1320.5,1061.2 1327.5,1061.9 1333.0,1062.7 1334.5,1063.8 1341.5,1067.7 1348.5,1071.6 1355.5,1076.8 1361.0,1081.6 1362.5,1083.8 1369.5,1085.6 1376.5,1085.0 1383.5,1085.2 1387.0,1086.2 1390.5,1087.3 1397.5,1090.0 1404.5,1093.0 1411.5,1096.0 1412.0,1097.0 1418.5,1098.4 1425.5,1099.2 1432.5,1099.7 1439.5,1099.8 1446.5,1100.7 1451.0,1101.9 1453.5,1103.0 1460.5,1105.2 1467.5,1106.3 1474.5,1107.2 1476.0,1107.6 1481.5,1113.8 1486.0,1119.4 1488.5,1117.3 1495.5,1111.3 1499.0,1110.0 1502.5,1111.7 1509.5,1112.4 1516.5,1113.1 1523.5,1113.8 1530.0,1114.6 1530.5,1115.0 1537.5,1117.6 1544.5,1119.6 1551.5,1121.5 1558.5,1124.5 1559.0,1125.2 1565.5,1120.6 1572.5,1116.3 1575.0,1114.5 1579.5,1116.8 1586.5,1122.6 1591.0,1126.7 1593.5,1125.5 1600.5,1121.8 1604.0,1119.3 1607.5,1120.0 1614.5,1121.7 1621.5,1122.5 1628.5,1121.8 1635.5,1121.5 1642.5,1123.8 1649.5,1126.1 1656.5,1126.5 1661.0,1125.0 1663.5,1123.5 1670.5,1123.3 1677.5,1120.8 1684.5,1117.8 1687.0,1118.2 1691.5,1118.5 1698.5,1119.0 1705.5,1121.8 1712.5,1124.3 1719.5,1124.9 1726.5,1126.4 1731.0,1128.9 1733.5,1127.9 1740.5,1123.6 1747.5,1119.8 1750.0,1118.1 1754.5,1121.5 1761.5,1127.4 1763.0,1128.7 1768.5,1124.5 1773.0,1120.7 1775.5,1120.3 1782.5,1122.5 1789.5,1125.6 1795.0,1127.6 1796.5,1128.1 1803.5,1129.0 1810.5,1130.0 1817.5,1131.3 1824.5,1131.6 1827.0,1132.0 1831.5,1133.3 1838.5,1133.4 1845.5,1131.6 1852.5,1129.7 1859.0,1129.3 1859.5,1129.8 1866.5,1130.8 1873.5,1132.4 1880.5,1136.6 1887.5,1140.9 1891.0,1141.6 1894.5,1139.6 1901.5,1138.1 1908.5,1135.4 1915.5,1131.5 1916.0,1132.6 1922.5,1139.5 1923.0,1141.0 1929.5,1139.3 1936.5,1136.0 1943.5,1131.9 1948.0,1129.9 1950.5,1132.9 1955.0,1137.8 1957.5,1138.2 1964.5,1140.4 1971.5,1141.1 1978.5,1139.6 1985.5,1139.0 1986.0,1139.9 1992.5,1138.1 1999.5,1135.5 2002.0,1134.1 2006.5,1132.6 2013.5,1132.2 2020.5,1133.1 2027.5,1134.3 2030.0,1133.8 2034.5,1131.9" stroke="#800080" stroke-width="8.5"/>
<polyline points="305.5,1072.3 306.0,1072.6 312.5,1072.3 319.5,1072.6 326.5,1074.8 333.5,1075.9 338.0,1075.5 340.5,1074.5 347.5,1072.6 354.5,1070.5 357.0,1069.5 361.5,1069.6 368.5,1071.4 375.5,1074.0 377.0,1074.8 382.5,1074.9 389.5,1073.9 396.5,1072.4 403.5,1071.9 410.5,1071.8 417.5,1071.4 424.5,1070.0 428.0,1069.9 431.5,1072.1 438.5,1074.2 445.5,1074.1 452.5,1072.8 459.5,1073.2 466.5,1074.2 473.5,1073.4 480.5,1072.9 487.5,1074.1 494.5,1074.8 498.0,1073.7 501.5,1071.7 508.5,1070.7 515.5,1070.4 522.5,1068.7 523.0,1068.6 529.5,1069.9 536.5,1070.5 543.5,1070.7 550.5,1070.9 557.5,1070.7 564.5,1070.8 565.0,1071.4 571.5,1070.8 578.5,1068.5 585.5,1065.6 587.0,1065.3 592.5,1066.1 599.5,1066.2 606.5,1065.0 613.5,1065.0 620.0,1067.3 620.5,1069.4 627.5,1067.6 634.5,1065.0 641.5,1064.7 648.5,1064.0 655.5,1061.2 659.0,1060.1 662.5,1059.7 669.5,1056.9 676.5,1053.3 683.5,1050.5 690.5,1049.1 697.5,1046.5 702.0,1043.6 704.5,1043.5 711.5,1046.5 712.0,1047.6 718.5,1036.0 722.0,1029.6 725.5,1028.9 731.0,1026.2 732.5,1023.9 739.5,1017.1 746.5,1009.6 753.5,1001.8 756.0,999.2 760.5,986.4 765.0,974.3 767.5,973.2 774.5,965.9 775.0,966.0 781.5,949.4 788.5,929.0 790.0,923.0 795.5,908.3 802.5,890.2 804.0,887.0 809.5,880.7 811.0,878.4 816.5,861.8 823.5,840.5 824.0,839.5 830.5,809.4 837.0,778.6 837.5,776.6 844.5,749.3 851.5,721.6 857.0,700.2 858.5,693.9 865.5,658.6 867.0,651.2 872.5,633.9 879.5,611.4 883.0,600.4 886.5,587.7 893.5,560.7 900.5,533.3 903.0,523.7 907.5,495.1 911.0,472.6 914.5,468.0 921.0,459.8 921.5,460.1 928.5,446.2 935.5,429.7 942.5,413.3 944.0,410.7 949.5,390.6 954.0,373.2 956.5,370.1 963.0,361.9 963.5,362.4 970.5,371.9 972.0,374.1 977.5,370.6 984.5,366.8 985.0,367.2 991.5,369.4 997.0,369.6 998.5,366.4 1005.5,354.5 1006.0,354.6 1012.5,383.6 1015.0,393.8 1019.5,388.0 1024.0,383.8 1026.5,387.9 1033.0,398.5 1033.5,401.0 1040.5,431.2 1041.0,432.6 1047.5,440.9 1051.0,445.2 1054.5,462.1 1059.0,484.2 1061.5,487.7 1068.5,495.0 1074.0,498.8 1075.5,502.5 1082.5,527.4 1089.5,552.4 1092.0,561.7 1096.5,567.1 1102.0,571.7 1103.5,576.3 1110.0,599.7 1110.5,601.1 1117.5,611.6 1120.0,615.5 1124.5,629.1 1131.5,650.4 1135.0,661.3 1138.5,665.0 1145.0,671.7 1145.5,672.1 1152.5,688.1 1154.0,692.1 1159.5,696.6 1164.0,699.5 1166.5,704.1 1173.0,716.9 1173.5,716.6 1180.5,718.7 1183.0,719.8 1187.5,728.2 1191.0,734.5 1194.5,737.0 1199.0,740.5 1201.5,747.4 1208.5,766.5 1212.0,775.6 1215.5,778.7 1222.5,786.0 1229.5,791.6 1233.0,792.0 1236.5,794.9 1243.5,803.8 1250.5,812.5 1255.0,817.1 1257.5,818.8 1264.5,823.8 1271.5,828.0 1278.5,832.6 1285.5,837.2 1287.0,837.2 1292.5,844.3 1299.5,854.4 1300.0,855.9 1306.5,854.7 1313.5,853.3 1316.0,854.1 1320.5,862.7 1327.5,873.5 1329.0,874.8 1334.5,879.9 1341.5,887.4 1345.0,890.2 1348.5,887.8 1354.0,886.4 1355.5,890.7 1362.5,903.4 1367.0,910.9 1369.5,913.5 1376.5,921.6 1378.0,922.8 1383.5,916.7 1389.0,911.5 1390.5,911.3 1397.5,913.1 1399.0,913.8 1404.5,921.2 1411.5,929.5 1418.0,935.3 1418.5,934.4 1425.5,939.3 1432.5,944.3 1439.5,949.1 1446.5,953.9 1453.5,957.8 1456.0,958.4 1460.5,961.7 1467.5,969.4 1474.5,977.0 1481.5,982.3 1482.0,981.6 1488.5,981.5 1495.5,981.0 1502.5,979.1 1504.0,978.7 1509.5,982.7 1516.5,986.6 1523.5,989.8 1530.5,993.6 1533.0,994.9 1537.5,995.2 1544.5,995.2 1551.5,995.2 1558.5,996.7 1561.0,997.3 1565.5,997.8 1572.5,1000.3 1579.5,1002.9 1580.0,1002.4 1586.5,1002.7 1593.5,1003.6 1600.5,1006.0 1607.5,1008.4 1609.0,1007.8 1614.5,1009.2 1621.5,1012.9 1628.0,1016.5 1628.5,1016.6 1635.5,1013.3 1642.5,1009.2 1645.0,1008.3 1649.5,1009.8 1656.5,1011.3 1663.5,1011.7 1670.5,1012.0 1674.0,1013.3 1677.5,1012.7 1684.5,1010.3 1690.0,1008.2 1691.5,1009.3 1698.5,1020.4 1699.0,1023.2 1705.5,1022.1 1712.5,1019.3 1719.5,1017.3 1725.0,1015.8 1726.5,1015.3 1733.5,1017.1 1740.5,1020.6 1747.5,1023.5 1750.0,1023.8 1754.5,1022.8 1761.5,1020.0 1768.5,1017.7 1770.0,1018.6 1775.5,1019.0 1782.5,1019.1 1789.5,1021.4 1795.0,1024.2 1796.5,1024.5 1803.5,1024.4 1810.5,1025.4 1817.5,1026.3 1824.5,1026.6 1831.5,1027.6 1838.5,1028.3 1843.0,1028.3 1845.5,1027.8 1852.5,1026.9 1859.5,1025.4 1866.5,1023.5 1872.0,1022.9 1873.5,1024.6 1880.5,1028.1 1887.5,1031.8 1891.0,1033.7 1894.5,1031.8 1901.5,1027.2 1905.0,1023.6 1908.5,1025.0 1915.5,1029.2 1922.5,1034.0 1923.0,1033.5 1929.5,1029.6 1936.5,1028.6 1943.5,1029.6 1950.5,1029.4 1951.0,1029.0 1957.5,1030.9 1964.5,1033.7 1967.0,1034.8 1971.5,1034.7 1978.5,1033.9 1985.5,1032.7 1992.5,1033.1 1999.0,1033.8 1999.5,1034.1 2006.5,1031.5 2013.5,1028.7 2018.0,1027.5 2020.5,1028.2 2027.5,1030.8 2030.0,1032.2 2034.5,1033.3" stroke="#008000" stroke-width="6"/>
<polyline points="305.5,834.1 310.0,834.3 312.5,834.2 319.5,834.9 326.5,835.0 332.0,835.2 333.5,835.8 340.5,834.2 347.5,831.3 354.5,829.0 361.0,827.7 361.5,827.9 368.5,833.2 373.0,837.4 375.5,837.3 382.5,836.4 389.5,835.8 396.0,836.2 396.5,836.4 403.5,836.7 410.5,837.9 417.5,838.0 424.5,838.1 431.5,836.9 438.5,834.7 443.0,834.5 445.5,835.3 452.5,835.1 459.5,834.6 466.5,833.2 473.5,832.1 480.5,831.8 487.5,831.7 491.0,832.8 494.5,832.8 501.5,831.9 508.5,832.3 515.5,831.6 522.5,829.4 529.5,828.0 536.5,827.5 543.5,826.9 550.5,828.4 557.5,829.9 561.0,829.1 564.5,829.7 571.5,832.1 574.0,833.4 578.5,832.9 585.5,831.9 592.5,832.0 599.5,831.5 606.5,829.1 613.5,826.2 616.0,825.3 620.5,829.7 622.0,831.5 627.5,829.9 634.5,828.1 641.5,825.1 648.5,820.5 651.0,820.1 655.5,819.6 660.0,816.7 662.5,815.9 669.5,816.0 676.5,816.2 681.0,818.7 683.5,819.2 690.5,811.8 695.0,804.9 697.5,803.2 704.5,802.0 708.0,801.4 711.5,795.4 718.5,785.7 721.0,784.1 725.5,779.0 732.5,769.1 739.5,759.3 740.0,758.3 746.5,759.7 753.0,761.6 753.5,762.0 760.5,744.5 763.0,739.2 767.5,733.8 774.5,721.5 775.0,718.9 781.5,708.3 785.0,702.3 788.5,689.8 793.0,675.5 795.5,672.5 802.5,664.8 804.0,663.4 809.5,644.0 816.5,621.3 823.5,600.6 824.0,599.7 830.5,571.0 834.0,555.3 837.5,544.0 844.5,520.5 851.5,495.8 855.0,484.4 858.5,474.6 865.5,454.0 872.5,432.6 879.5,410.3 880.0,409.2 886.5,375.0 888.0,366.4 893.5,353.9 898.0,346.1 900.5,334.4 903.0,319.8 907.5,299.1 914.5,267.6 916.0,259.4 921.5,254.1 924.0,251.6 928.5,241.3 935.5,226.0 942.5,211.3 949.5,196.6 951.0,192.7 956.5,191.0 960.0,190.4 963.5,186.1 970.5,176.9 975.0,171.9 977.5,173.5 984.5,174.1 986.0,174.0 991.5,171.9 995.0,170.2 998.5,186.6 1001.0,199.0 1005.5,203.6 1011.0,209.0 1012.5,214.6 1019.5,235.8 1026.5,256.1 1029.0,263.7 1033.5,273.1 1039.0,284.4 1040.5,292.6 1047.5,328.6 1051.0,344.5 1054.5,355.1 1061.5,380.1 1062.0,382.4 1068.5,409.5 1069.0,413.5 1075.5,427.9 1080.0,436.5 1082.5,448.8 1089.0,480.7 1089.5,481.5 1096.5,497.5 1100.0,507.5 1103.5,521.5 1107.0,532.9 1110.5,536.3 1115.0,542.8 1117.5,553.8 1124.5,583.8 1125.0,585.5 1131.5,597.7 1135.0,604.0 1138.5,613.6 1145.5,633.8 1148.0,641.2 1152.5,642.7 1159.5,647.2 1161.0,649.0 1166.5,661.6 1170.0,669.1 1173.5,669.7 1180.0,671.9 1180.5,672.3 1187.5,688.2 1189.0,693.1 1194.5,695.5 1201.5,698.0 1205.0,700.0 1208.5,703.9 1215.5,709.5 1222.5,714.3 1224.0,714.4 1229.5,716.9 1233.0,720.6 1236.5,725.3 1243.5,730.2 1250.5,737.1 1252.0,739.8 1257.5,736.3 1264.5,732.1 1265.0,732.5 1271.5,734.5 1278.5,735.2 1281.0,734.8 1285.5,737.9 1292.5,742.3 1299.5,746.8 1300.0,748.3 1306.5,746.8 1313.0,744.1 1313.5,743.7 1320.5,748.3 1327.5,753.1 1332.0,755.7 1334.5,758.1 1341.0,764.5 1341.5,764.0 1348.0,761.1 1348.5,760.5 1355.5,766.7 1362.5,773.0 1364.0,773.3 1369.5,771.5 1376.0,771.1 1376.5,773.3 1383.5,779.4 1390.5,784.0 1397.5,787.4 1399.0,787.3 1404.5,782.9 1408.0,780.8 1411.5,782.5 1418.5,786.1 1425.5,789.3 1431.0,789.1 1432.5,788.1 1439.5,793.5 1443.0,796.3 1446.5,796.3 1453.5,795.9 1456.0,794.1 1460.5,794.8 1467.5,799.7 1474.5,803.8 1481.5,805.4 1485.0,805.9 1488.5,804.0 1495.5,800.3 1502.5,796.5 1504.0,796.3 1509.5,799.3 1516.5,802.8 1523.5,805.9 1530.5,807.4 1533.0,806.6 1537.5,807.0 1544.5,807.5 1551.5,807.4 1555.0,807.6 1558.5,807.7 1565.5,809.9 1572.5,814.0 1579.5,816.5 1580.0,816.1 1586.5,812.6 1591.0,809.9 1593.5,808.0 1600.5,806.4 1607.5,807.9 1614.5,809.8 1620.0,810.8 1621.5,812.2 1628.5,812.6 1635.5,810.5 1642.5,810.1 1649.5,811.4 1650.0,809.9 1656.5,808.9 1663.5,810.6 1668.0,811.2 1670.5,812.6 1677.0,817.2 1677.5,816.1 1684.5,811.1 1691.5,808.0 1696.0,805.6 1698.5,806.6 1705.5,811.5 1712.0,817.6 1712.5,818.6 1719.5,815.9 1726.5,813.9 1733.5,811.9 1740.5,810.0 1744.0,810.2 1747.5,812.4 1754.5,815.1 1757.0,814.7 1761.5,813.5 1768.5,814.0 1775.5,815.6 1782.5,817.0 1789.5,817.8 1795.0,817.8 1796.5,818.6 1803.5,820.6 1810.5,820.4 1817.5,819.9 1821.0,820.1 1824.5,821.0 1831.5,821.5 1837.0,820.6 1838.5,820.5 1845.5,818.0 1849.0,816.8 1852.5,816.5 1859.5,815.9 1866.5,816.5 1873.5,817.8 1875.0,817.9 1880.5,823.0 1884.0,827.6 1887.5,827.5 1894.5,825.1 1901.5,824.1 1904.0,824.2 1908.5,823.4 1915.5,821.4 1919.0,819.8 1922.5,819.5 1929.5,819.9 1936.5,821.6 1939.0,822.3 1943.5,824.7 1950.5,826.9 1955.0,826.8 1957.5,827.1 1964.5,827.6 1971.5,826.7 1978.5,823.8 1980.0,821.7 1985.5,820.7 1992.5,822.2 1996.0,822.8 1999.5,822.8 2006.5,824.6 2013.5,828.1 2018.0,833.6 2020.5,834.6 2027.5,830.2 2030.0,828.1 2034.5,827.3" stroke="#800000" stroke-width="9"/>
<polyline points="305.5,650.7 310.0,651.2 312.5,650.6 319.5,651.6 326.5,654.1 333.5,655.8 340.5,656.6 347.5,656.7 351.0,655.7 354.5,654.0 361.5,652.3 368.5,649.5 375.5,646.0 377.0,645.6 382.5,647.8 389.5,649.6 396.0,651.6 396.5,652.4 403.5,652.7 410.5,653.1 417.5,651.4 424.5,647.1 431.5,645.3 437.0,645.5 438.5,646.0 445.5,650.8 452.5,656.2 453.0,654.9 459.5,650.6 466.5,648.5 473.5,647.8 480.5,645.3 487.5,641.3 488.0,641.5 494.5,651.8 498.0,656.6 501.5,656.0 508.5,656.6 515.5,656.0 522.5,654.2 529.5,654.9 536.5,656.0 539.0,654.4 543.5,650.1 550.5,647.0 555.0,646.5 557.5,646.5 564.5,646.9 571.5,649.5 578.5,650.6 584.0,652.1 585.5,651.0 592.0,639.8 592.5,638.4 599.5,642.6 603.0,645.7 606.5,642.2 613.5,638.5 619.0,639.1 620.5,640.6 627.5,640.5 634.5,640.7 635.0,642.0 641.5,638.1 648.5,631.6 651.0,627.2 655.5,628.3 662.5,632.0 664.0,631.5 669.5,626.5 676.5,621.1 683.5,614.4 686.0,612.2 690.5,614.4 695.0,616.8 697.5,614.7 704.5,608.8 711.0,603.9 711.5,602.0 718.5,592.9 724.0,586.1 725.5,584.8 732.5,583.0 739.5,582.1 746.5,582.8 750.0,583.4 753.5,570.4 758.0,554.3 760.5,551.3 767.5,544.3 773.0,540.8 774.5,541.5 781.5,530.1 788.5,515.0 791.0,508.9 795.5,498.4 802.5,482.0 809.0,466.9 809.5,466.1 816.5,455.3 823.5,444.3 824.0,442.5 830.5,425.8 837.0,409.6 837.5,409.0 844.5,398.9 847.0,395.5 851.5,379.5 858.5,354.9 865.5,329.2 867.0,322.2 872.5,318.8 878.0,316.9 879.5,308.5 884.0,277.8 886.5,267.8 891.0,250.9 893.5,246.2 900.5,233.2 904.0,227.5 907.5,210.6 914.5,180.2 919.0,165.3 921.5,157.5 927.0,136.8 928.5,135.8 935.5,132.7 937.0,131.2 942.5,112.9 945.0,105.7 949.5,100.1 955.0,92.2 956.5,94.6 963.5,104.9 965.0,107.2 970.5,76.1 973.0,60.8 977.5,65.5 981.0,71.3 984.5,82.4 991.0,99.0 991.5,97.7 998.0,79.6 998.5,79.9 1005.5,97.5 1006.0,99.0 1012.5,122.3 1014.0,128.9 1019.5,122.2 1024.0,115.2 1026.5,119.2 1033.5,132.2 1035.0,135.6 1040.5,184.3 1041.0,189.9 1047.5,197.3 1054.5,204.9 1057.0,207.3 1061.5,218.6 1068.5,237.0 1075.5,256.1 1077.0,260.8 1082.5,287.4 1086.0,304.4 1089.5,310.5 1096.0,321.9 1096.5,325.6 1102.0,362.4 1103.5,364.5 1110.5,369.6 1112.0,370.7 1117.5,382.3 1124.0,395.9 1124.5,399.1 1131.5,427.0 1135.0,438.8 1138.5,444.4 1145.5,455.3 1148.0,457.8 1152.5,460.9 1159.5,465.4 1164.0,467.2 1166.5,473.3 1170.0,481.9 1173.5,483.3 1180.5,487.6 1181.0,488.6 1187.5,508.0 1189.0,511.8 1194.5,508.8 1201.5,507.4 1202.0,507.8 1208.5,519.3 1215.0,531.0 1215.5,531.1 1222.5,533.2 1229.5,533.5 1231.0,532.8 1236.5,536.2 1243.5,538.2 1247.0,536.1 1250.5,540.0 1257.5,548.0 1264.5,555.3 1266.0,556.8 1271.5,557.1 1278.5,559.8 1285.5,563.1 1291.0,563.4 1292.5,560.4 1299.5,551.1 1302.0,548.4 1306.5,552.0 1313.5,556.0 1317.0,557.8 1320.5,564.8 1326.0,577.0 1327.5,575.8 1334.5,574.0 1341.5,574.9 1348.5,575.5 1352.0,576.8 1355.5,580.3 1362.5,583.2 1368.0,587.0 1369.5,590.6 1376.5,598.3 1379.0,601.0 1383.5,596.5 1390.0,590.1 1390.5,591.2 1397.5,594.2 1404.5,595.4 1411.5,595.5 1412.0,595.0 1418.5,604.3 1422.0,610.4 1425.5,611.2 1432.5,608.5 1438.0,605.5 1439.5,608.2 1446.5,619.0 1448.0,621.1 1453.5,615.2 1460.0,609.2 1460.5,608.6 1467.5,606.1 1474.5,605.5 1481.5,606.2 1483.0,606.1 1488.5,610.4 1495.5,616.0 1502.5,619.9 1508.0,623.6 1509.5,624.0 1516.5,619.5 1523.5,614.6 1524.0,614.9 1530.5,624.8 1534.0,629.3 1537.5,625.1 1542.0,618.7 1544.5,620.3 1551.5,628.9 1553.0,631.3 1558.5,624.9 1565.5,617.2 1569.0,614.6 1572.5,618.1 1579.5,622.5 1581.0,623.1 1586.5,623.9 1593.5,623.9 1600.5,625.5 1607.5,627.2 1614.5,626.6 1621.5,627.1 1628.5,628.8 1635.5,628.7 1639.0,628.6 1642.5,627.9 1649.5,623.8 1655.0,618.6 1656.5,619.1 1663.5,623.4 1668.0,625.7 1670.5,626.2 1677.5,627.9 1684.5,629.3 1691.5,630.1 1693.0,630.9 1698.5,633.1 1705.5,635.0 1712.5,638.7 1715.0,641.1 1719.5,636.3 1725.0,630.4 1726.5,630.0 1733.5,629.6 1740.5,630.3 1741.0,630.7 1747.5,634.5 1750.0,636.9 1754.5,637.1 1761.5,635.1 1768.5,633.1 1775.5,631.0 1782.5,629.5 1789.5,630.2 1796.5,630.7 1801.0,628.5 1803.5,628.3 1810.5,632.5 1817.5,637.4 1824.5,642.3 1827.0,644.7 1831.5,644.3 1838.5,642.2 1845.5,640.1 1852.5,637.8 1854.0,636.0 1859.5,640.7 1864.0,646.0 1866.5,644.2 1873.0,636.5 1873.5,636.0 1880.5,638.4 1887.5,639.5 1894.5,639.7 1901.5,640.7 1908.5,642.0 1915.5,642.6 1916.0,641.3 1922.5,636.8 1923.0,637.9 1929.5,643.2 1932.0,644.4 1936.5,642.8 1943.5,641.5 1950.5,641.6 1957.5,640.8 1958.0,640.3 1964.5,644.2 1971.5,646.9 1978.5,648.6 1983.0,649.8 1985.5,644.6 1992.5,634.2 1993.0,634.4 1999.5,638.3 2006.5,641.5 2013.5,644.5 2018.0,645.7 2020.5,646.2 2027.5,650.3 2028.0,650.3 2030.0,646.3 2034.5,647.2" stroke="#ff8000" stroke-width="8.5"/>
</g>
<line x1="979" y1="30" x2="979" y2="127" stroke="#333" stroke-width="3"/>
<polygon points="979.0,147.0 970.0,116.0 988.0,116.0" fill="#000"/>
<line x1="985" y1="158" x2="985" y2="252" stroke="#333" stroke-width="3"/>
<polygon points="985.0,272.0 976.0,241.0 994.0,241.0" fill="#000"/>
<line x1="982" y1="323" x2="982" y2="418" stroke="#333" stroke-width="3"/>
<polygon points="982.0,438.0 973.0,407.0 991.0,407.0" fill="#000"/>
<line x1="989" y1="475" x2="989" y2="571" stroke="#333" stroke-width="3"/>
<polygon points="989.0,591.0 980.0,560.0 998.0,560.0" fill="#000"/>
<line x1="1038" y1="625" x2="1038" y2="702" stroke="#333" stroke-width="3"/>
<polygon points="1038.0,722.0 1029.0,691.0 1047.0,691.0" fill="#000"/>
<line x1="983" y1="939" x2="983" y2="1262" stroke="#111" stroke-width="5" stroke-dasharray="17 14"/>
<polygon points="983.0,1290.0 974.0,1261.0 992.0,1261.0" fill="#000"/>
<line x1="1067" y1="837" x2="1067" y2="1262" stroke="#111" stroke-width="5" stroke-dasharray="17 14"/>
<polygon points="1067.0,1290.0 1058.0,1261.0 1076.0,1261.0" fill="#000"/>
<line x1="1235.5" y1="1081" x2="1235.5" y2="1262" stroke="#111" stroke-width="5" stroke-dasharray="17 14"/>
<polygon points="1235.5,1290.0 1226.5,1261.0 1244.5,1261.0" fill="#000"/>
<line x1="1607" y1="1202" x2="1607" y2="1262" stroke="#111" stroke-width="5" stroke-dasharray="17 14"/>
<polygon points="1607.0,1290.0 1598.0,1261.0 1616.0,1261.0" fill="#000"/>
<line x1="769" y1="908" x2="943.7" y2="1080.0" stroke="#000" stroke-width="4"/>
<polygon points="958.0,1094.0 926.0,1076.6 940.1,1062.3" fill="#000"/>
<line x1="1287" y1="682" x2="1093.2" y2="873.9" stroke="#000" stroke-width="4"/>
<polygon points="1079.0,888.0 1096.8,856.3 1110.9,870.5" fill="#000"/>
<line x1="1445" y1="918" x2="1267.3" y2="1092.0" stroke="#000" stroke-width="4"/>
<polygon points="1253.0,1106.0 1271.0,1074.4 1285.0,1088.7" fill="#000"/>
<line x1="1655" y1="1177" x2="1621.4" y2="1209.2" stroke="#000" stroke-width="4"/>
<polygon points="1607.0,1223.0 1625.4,1191.6 1639.2,1206.0" fill="#000"/>
<text transform="translate(304.5,1380) scale(1,1.02)" font-family="Liberation Serif, Times New Roman, serif" font-weight="bold" font-size="75.8" text-anchor="middle">280</text>
<text transform="translate(650.3,1380) scale(1,1.02)" font-family="Liberation Serif, Times New Roman, serif" font-weight="bold" font-size="75.8" text-anchor="middle">282</text>
<text transform="translate(996.1,1380) scale(1,1.02)" font-family="Liberation Serif, Times New Roman, serif" font-weight="bold" font-size="75.8" text-anchor="middle">284</text>
<text transform="translate(1341.9,1380) scale(1,1.02)" font-family="Liberation Serif, Times New Roman, serif" font-weight="bold" font-size="75.8" text-anchor="middle">286</text>
<text transform="translate(1687.7,1380) scale(1,1.02)" font-family="Liberation Serif, Times New Roman, serif" font-weight="bold" font-size="75.8" text-anchor="middle">288</text>
<text transform="translate(2033.5,1380) scale(1,1.02)" font-family="Liberation Serif, Times New Roman, serif" font-weight="bold" font-size="75.8" text-anchor="middle">290</text>
<text transform="translate(326.24,112.80)" font-family="Liberation Serif, Times New Roman, serif" font-weight="bold" font-size="105.83">(a)</text>
<text transform="translate(1862.08,124.22) scale(1,1.044)" font-family="Liberation Serif, Times New Roman, serif" font-weight="bold" font-size="74.46">C1s</text>
<g transform="translate(0,390.2) scale(1,1.047)"><text x="321.5" y="0" font-family="Liberation Serif, Times New Roman, serif" font-weight="bold" font-size="73.85">CH</text><text x="432.6" y="27.79" font-family="Liberation Serif, Times New Roman, serif" font-weight="bold" font-size="54.8">4</text><text x="482.0" y="0" font-family="Liberation Serif, Times New Roman, serif" font-weight="bold" font-size="72.8">flow rate</text></g>
<text transform="translate(378.25,627.02) scale(1,1.059)" font-family="Liberation Serif, Times New Roman, serif" font-weight="bold" font-size="73.70">20sccm</text>
<text transform="translate(384.01,817.83) scale(1,1.059)" font-family="Liberation Serif, Times New Roman, serif" font-weight="bold" font-size="72.62">40sccm</text>
<text transform="translate(378.43,1051.22) scale(1,1.064)" font-family="Liberation Serif, Times New Roman, serif" font-weight="bold" font-size="73.39">60sccm</text>
<text transform="translate(347.56,1152.63) scale(1,1.051)" font-family="Liberation Serif, Times New Roman, serif" font-weight="bold" font-size="72.99">100sccm</text>
<text transform="translate(344.86,1269.43) scale(1,1.051)" font-family="Liberation Serif, Times New Roman, serif" font-weight="bold" font-size="73.02">150sccm</text>
<text transform="translate(623.10,907.05) scale(1,0.989)" font-family="Liberation Serif, Times New Roman, serif" font-weight="bold" font-size="76.30">Si-C</text>
<text transform="translate(1297.84,694.56) scale(1,1.010)" font-family="Liberation Serif, Times New Roman, serif" font-weight="bold" font-size="75.28">sp2-C</text>
<text transform="translate(1456.84,912.56) scale(1,0.999)" font-family="Liberation Serif, Times New Roman, serif" font-weight="bold" font-size="75.20">sp3-C</text>
<text transform="translate(1657.66,1199.91) scale(1,1.049)" font-family="Liberation Serif, Times New Roman, serif" font-weight="bold" font-size="74.82">C=O</text>
<text x="723.3" y="1501.3" font-family="Liberation Serif, Times New Roman, serif" font-weight="bold" font-size="103.9">Binding energy (eV)</text>
<text transform="translate(203.5,987) rotate(-90)" x="0" y="0" font-family="Liberation Serif, Times New Roman, serif" font-weight="bold" font-size="104">Intensity (a.u.)</text>
<rect x="304.8" y="1596" width="1729.2" height="1271.5" fill="none" stroke="#000" stroke-width="10.5"/>
<line x1="304.8" y1="2761.5" x2="321.8" y2="2761.5" stroke="#000" stroke-width="7.5" stroke-linecap="round"/>
<line x1="304.8" y1="2655.6" x2="333.8" y2="2655.6" stroke="#000" stroke-width="7.5" stroke-linecap="round"/>
<line x1="304.8" y1="2549.6" x2="321.8" y2="2549.6" stroke="#000" stroke-width="7.5" stroke-linecap="round"/>
<line x1="304.8" y1="2443.7" x2="333.8" y2="2443.7" stroke="#000" stroke-width="7.5" stroke-linecap="round"/>
<line x1="304.8" y1="2337.7" x2="321.8" y2="2337.7" stroke="#000" stroke-width="7.5" stroke-linecap="round"/>
<line x1="304.8" y1="2231.8" x2="333.8" y2="2231.8" stroke="#000" stroke-width="7.5" stroke-linecap="round"/>
<line x1="304.8" y1="2125.8" x2="321.8" y2="2125.8" stroke="#000" stroke-width="7.5" stroke-linecap="round"/>
<line x1="304.8" y1="2019.8" x2="333.8" y2="2019.8" stroke="#000" stroke-width="7.5" stroke-linecap="round"/>
<line x1="304.8" y1="1913.9" x2="321.8" y2="1913.9" stroke="#000" stroke-width="7.5" stroke-linecap="round"/>
<line x1="304.8" y1="1807.9" x2="333.8" y2="1807.9" stroke="#000" stroke-width="7.5" stroke-linecap="round"/>
<line x1="304.8" y1="1702.0" x2="321.8" y2="1702.0" stroke="#000" stroke-width="7.5" stroke-linecap="round"/>
<text transform="translate(276,2888.3) scale(1,1.05)" font-family="Liberation Serif, Times New Roman, serif" font-weight="bold" font-size="75.5" text-anchor="end">0.1</text>
<text transform="translate(276,2676.4) scale(1,1.05)" font-family="Liberation Serif, Times New Roman, serif" font-weight="bold" font-size="75.5" text-anchor="end">0.2</text>
<text transform="translate(276,2464.5) scale(1,1.05)" font-family="Liberation Serif, Times New Roman, serif" font-weight="bold" font-size="75.5" text-anchor="end">0.3</text>
<text transform="translate(276,2252.6) scale(1,1.05)" font-family="Liberation Serif, Times New Roman, serif" font-weight="bold" font-size="75.5" text-anchor="end">0.4</text>
<text transform="translate(276,2040.6) scale(1,1.05)" font-family="Liberation Serif, Times New Roman, serif" font-weight="bold" font-size="75.5" text-anchor="end">0.5</text>
<text transform="translate(276,1828.7) scale(1,1.05)" font-family="Liberation Serif, Times New Roman, serif" font-weight="bold" font-size="75.5" text-anchor="end">0.6</text>
<text transform="translate(276,1616.8) scale(1,1.05)" font-family="Liberation Serif, Times New Roman, serif" font-weight="bold" font-size="75.5" text-anchor="end">0.7</text>
<line x1="477.7" y1="2867.5" x2="477.7" y2="2838.5" stroke="#000" stroke-width="7.5" stroke-linecap="round"/>
<line x1="650.6" y1="2867.5" x2="650.6" y2="2850.5" stroke="#000" stroke-width="7.5" stroke-linecap="round"/>
<line x1="823.6" y1="2867.5" x2="823.6" y2="2838.5" stroke="#000" stroke-width="7.5" stroke-linecap="round"/>
<line x1="996.5" y1="2867.5" x2="996.5" y2="2850.5" stroke="#000" stroke-width="7.5" stroke-linecap="round"/>
<line x1="1169.4" y1="2867.5" x2="1169.4" y2="2838.5" stroke="#000" stroke-width="7.5" stroke-linecap="round"/>
<line x1="1342.3" y1="2867.5" x2="1342.3" y2="2850.5" stroke="#000" stroke-width="7.5" stroke-linecap="round"/>
<line x1="1515.2" y1="2867.5" x2="1515.2" y2="2838.5" stroke="#000" stroke-width="7.5" stroke-linecap="round"/>
<line x1="1688.2" y1="2867.5" x2="1688.2" y2="2850.5" stroke="#000" stroke-width="7.5" stroke-linecap="round"/>
<line x1="1861.1" y1="2867.5" x2="1861.1" y2="2838.5" stroke="#000" stroke-width="7.5" stroke-linecap="round"/>
<text transform="translate(476.2,2974.6) scale(1,1.02)" font-family="Liberation Serif, Times New Roman, serif" font-weight="bold" font-size="77" text-anchor="middle">20</text>
<text transform="translate(822.1,2974.6) scale(1,1.02)" font-family="Liberation Serif, Times New Roman, serif" font-weight="bold" font-size="77" text-anchor="middle">40</text>
<text transform="translate(1167.9,2974.6) scale(1,1.02)" font-family="Liberation Serif, Times New Roman, serif" font-weight="bold" font-size="77" text-anchor="middle">60</text>
<text transform="translate(1513.7,2974.6) scale(1,1.02)" font-family="Liberation Serif, Times New Roman, serif" font-weight="bold" font-size="77" text-anchor="middle">100</text>
<text transform="translate(1859.6,2974.6) scale(1,1.02)" font-family="Liberation Serif, Times New Roman, serif" font-weight="bold" font-size="77" text-anchor="middle">150</text>
<line x1="506.7" y1="2696.1" x2="794.6" y2="2466.7" stroke="#000" stroke-width="6.2"/>
<line x1="845.0" y1="2413.5" x2="1148.0" y2="1986.4" stroke="#000" stroke-width="6.2"/>
<line x1="1205.3" y1="1947.5" x2="1479.3" y2="1880.3" stroke="#000" stroke-width="6.2"/>
<line x1="1552.2" y1="1869.2" x2="1824.1" y2="1852.6" stroke="#000" stroke-width="6.2"/>
<rect x="454.2" y="2696.2" width="47" height="46" fill="#000"/>
<rect x="800.1" y="2420.7" width="47" height="46" fill="#000"/>
<rect x="1145.9" y="1933.3" width="47" height="46" fill="#000"/>
<rect x="1491.7" y="1848.5" width="47" height="46" fill="#000"/>
<rect x="1837.6" y="1827.3" width="47" height="46" fill="#000"/>
<text transform="translate(334.78,1695.49)" font-family="Liberation Serif, Times New Roman, serif" font-weight="bold" font-size="107.05">(b)</text>
<g transform="translate(0,3088.4) scale(1,1.02)"><text x="706.3" y="0" font-family="Liberation Serif, Times New Roman, serif" font-weight="bold" font-size="104.3">CH</text><text x="863.6" y="0" font-family="Liberation Serif, Times New Roman, serif" font-weight="bold" font-size="57.6">4</text><text x="921.8" y="0" font-family="Liberation Serif, Times New Roman, serif" font-weight="bold" font-size="103.5">flow rate (sccm)</text></g>
<text transform="translate(94,2516.5) rotate(-90)" x="0" y="0" font-family="Liberation Serif, Times New Roman, serif" font-weight="bold" font-size="105">sp<tspan font-size="56" dy="-34">3</tspan><tspan dy="34">/sp</tspan><tspan font-size="56" dy="-34">2</tspan><tspan dy="34"> ratio</tspan></text>
</svg></body></html>
